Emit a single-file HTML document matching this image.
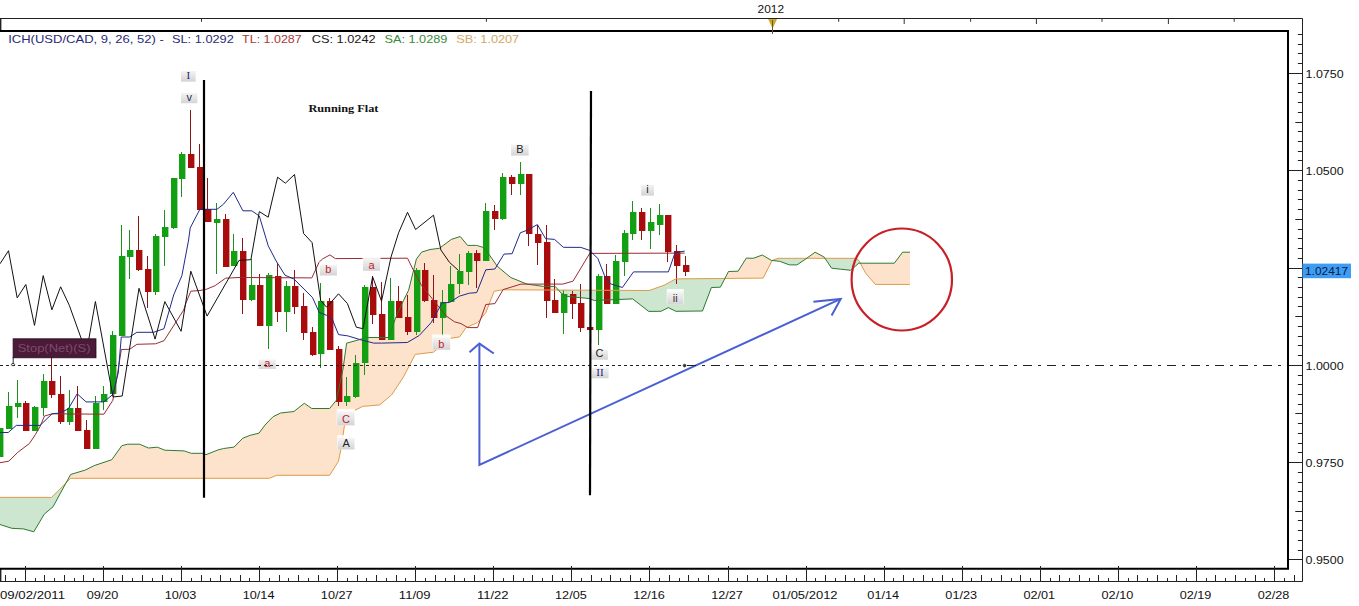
<!DOCTYPE html>
<html><head><meta charset="utf-8"><style>
html,body{margin:0;padding:0;background:#fff;width:1359px;height:606px;overflow:hidden}
svg{display:block}
</style></head><body>
<svg width="1359" height="606" viewBox="0 0 1359 606">
<defs><linearGradient id="lg" x1="0" y1="0" x2="0" y2="1"><stop offset="0" stop-color="#f4f4f4"/><stop offset="1" stop-color="#d4d4d4"/></linearGradient>
<clipPath id="cp"><rect x="0" y="31" width="1288" height="537"/></clipPath></defs>
<rect width="1359" height="606" fill="#fff"/>
<g clip-path="url(#cp)">
<path d="M66.5,482.0 L67.0,481.1 L67.5,480.2 L68.0,479.3 L68.5,478.4 L69.0,477.4 L69.5,476.5 L70.0,475.6 L70.5,474.7 L71.0,474.4 L71.5,474.2 L72.0,474.1 L72.5,473.9 L73.0,473.8 L73.5,473.6 L74.0,473.5 L74.5,473.3 L75.0,473.2 L75.5,473.0 L76.0,472.9 L76.5,472.7 L77.0,472.6 L77.5,472.4 L78.0,472.2 L78.5,472.1 L79.0,471.9 L79.5,471.8 L80.0,471.6 L80.5,471.5 L81.0,471.3 L81.5,471.2 L82.0,471.0 L82.5,470.9 L83.0,470.7 L83.5,470.6 L84.0,470.4 L84.5,470.3 L85.0,470.1 L85.5,469.9 L86.0,469.7 L86.5,469.4 L87.0,469.2 L87.5,468.9 L88.0,468.7 L88.5,468.4 L89.0,468.2 L89.5,467.9 L90.0,467.7 L90.5,467.4 L91.0,467.2 L91.5,467.0 L92.0,466.7 L92.5,466.5 L93.0,466.2 L93.5,466.0 L94.0,465.7 L94.5,465.5 L95.0,465.3 L95.5,465.2 L96.0,465.0 L96.5,464.8 L97.0,464.7 L97.5,464.5 L98.0,464.3 L98.5,464.2 L99.0,464.0 L99.5,463.8 L100.0,463.7 L100.5,463.5 L101.0,463.3 L101.5,463.2 L102.0,463.0 L102.5,462.8 L103.0,462.6 L103.5,462.5 L104.0,462.3 L104.5,462.1 L105.0,462.0 L105.5,461.8 L106.0,461.6 L106.5,461.5 L107.0,461.3 L107.5,461.1 L108.0,461.0 L108.5,460.8 L109.0,460.6 L109.5,460.5 L110.0,460.3 L110.5,460.1 L111.0,460.0 L111.5,459.8 L112.0,459.4 L112.5,458.7 L113.0,458.0 L113.5,457.3 L114.0,456.6 L114.5,455.9 L115.0,455.2 L115.5,454.5 L116.0,453.8 L116.5,453.1 L117.0,452.4 L117.5,451.7 L118.0,451.0 L118.5,450.3 L119.0,449.6 L119.5,448.9 L120.0,448.2 L120.5,447.5 L121.0,446.8 L121.5,446.1 L122.0,445.6 L122.5,445.5 L123.0,445.4 L123.5,445.3 L124.0,445.1 L124.5,445.0 L125.0,444.9 L125.5,444.8 L126.0,444.6 L126.5,444.5 L127.0,444.4 L127.5,444.3 L128.0,444.2 L128.5,444.2 L129.0,444.2 L129.5,444.2 L130.0,444.2 L130.5,444.2 L131.0,444.2 L131.5,444.2 L132.0,444.2 L132.5,444.2 L133.0,444.2 L133.5,444.2 L134.0,444.2 L134.5,444.2 L135.0,444.2 L135.5,444.2 L136.0,444.2 L136.5,444.2 L137.0,444.2 L137.5,444.2 L138.0,444.2 L138.5,444.2 L139.0,444.2 L139.5,444.2 L140.0,444.4 L140.5,444.6 L141.0,444.8 L141.5,445.0 L142.0,445.2 L142.5,445.4 L143.0,445.7 L143.5,445.9 L144.0,446.1 L144.5,446.3 L145.0,446.5 L145.5,446.7 L146.0,446.9 L146.5,447.1 L147.0,447.4 L147.5,447.6 L148.0,447.8 L148.5,448.0 L149.0,448.0 L149.5,447.9 L150.0,447.9 L150.5,447.8 L151.0,447.8 L151.5,447.7 L152.0,447.7 L152.5,447.6 L153.0,447.6 L153.5,447.6 L154.0,447.5 L154.5,447.5 L155.0,447.4 L155.5,447.4 L156.0,447.3 L156.5,447.3 L157.0,447.2 L157.5,447.2 L158.0,447.4 L158.5,447.6 L159.0,447.8 L159.5,448.1 L160.0,448.3 L160.5,448.5 L161.0,448.7 L161.5,448.9 L162.0,449.1 L162.5,449.3 L163.0,449.5 L163.5,449.7 L164.0,449.9 L164.5,450.1 L165.0,450.2 L165.5,450.2 L166.0,450.2 L166.5,450.3 L167.0,450.3 L167.5,450.3 L168.0,450.3 L168.5,450.3 L169.0,450.4 L169.5,450.4 L170.0,450.4 L170.5,450.4 L171.0,450.4 L171.5,450.4 L172.0,450.5 L172.5,450.5 L173.0,450.5 L173.5,450.5 L174.0,450.5 L174.5,450.6 L175.0,450.6 L175.5,450.6 L176.0,450.6 L176.5,450.6 L177.0,450.6 L177.5,450.7 L178.0,450.7 L178.5,450.7 L179.0,450.7 L179.5,450.7 L180.0,450.8 L180.5,450.8 L181.0,450.8 L181.5,450.8 L182.0,450.8 L182.5,450.8 L183.0,450.9 L183.5,450.9 L184.0,450.9 L184.5,451.0 L185.0,451.2 L185.5,451.4 L186.0,451.5 L186.5,451.7 L187.0,451.9 L187.5,452.0 L188.0,452.2 L188.5,452.4 L189.0,452.5 L189.5,452.7 L190.0,452.9 L190.5,453.0 L191.0,453.2 L191.5,453.3 L192.0,453.3 L192.5,453.3 L193.0,453.3 L193.5,453.3 L194.0,453.3 L194.5,453.3 L195.0,453.3 L195.5,453.3 L196.0,453.3 L196.5,453.3 L197.0,453.3 L197.5,453.3 L198.0,453.3 L198.5,453.3 L199.0,453.3 L199.5,453.3 L200.0,453.3 L200.5,453.3 L201.0,453.3 L201.5,453.3 L202.0,453.3 L202.5,453.3 L203.0,453.3 L203.5,453.5 L204.0,453.7 L204.5,454.0 L205.0,454.2 L205.5,454.5 L206.0,454.7 L206.5,454.5 L207.0,454.3 L207.5,454.1 L208.0,453.9 L208.5,453.7 L209.0,453.5 L209.5,453.3 L210.0,453.1 L210.5,452.9 L211.0,452.7 L211.5,452.5 L212.0,452.3 L212.5,452.1 L213.0,451.9 L213.5,451.7 L214.0,451.5 L214.5,451.3 L215.0,451.1 L215.5,450.9 L216.0,450.7 L216.5,450.5 L217.0,450.3 L217.5,450.1 L218.0,449.9 L218.5,449.8 L219.0,449.7 L219.5,449.6 L220.0,449.4 L220.5,449.3 L221.0,449.2 L221.5,449.1 L222.0,448.9 L222.5,448.8 L223.0,448.7 L223.5,448.6 L224.0,448.5 L224.5,448.4 L225.0,448.3 L225.5,448.3 L226.0,448.2 L226.5,448.1 L227.0,448.1 L227.5,448.0 L228.0,447.9 L228.5,447.8 L229.0,447.8 L229.5,447.7 L230.0,447.6 L230.5,447.6 L231.0,447.5 L231.5,447.4 L232.0,447.4 L232.5,447.3 L233.0,447.2 L233.5,447.2 L234.0,447.1 L234.5,446.6 L235.0,446.1 L235.5,445.6 L236.0,445.1 L236.5,444.6 L237.0,444.1 L237.5,443.6 L238.0,443.1 L238.5,442.5 L239.0,442.0 L239.5,441.5 L240.0,441.0 L240.5,440.5 L241.0,440.0 L241.5,439.5 L242.0,439.0 L242.5,438.5 L243.0,438.1 L243.5,437.9 L244.0,437.7 L244.5,437.5 L245.0,437.3 L245.5,437.1 L246.0,436.9 L246.5,436.8 L247.0,436.6 L247.5,436.4 L248.0,436.2 L248.5,436.0 L249.0,435.8 L249.5,435.6 L250.0,435.4 L250.5,435.2 L251.0,435.1 L251.5,435.0 L252.0,434.9 L252.5,434.8 L253.0,434.6 L253.5,434.5 L254.0,434.4 L254.5,434.3 L255.0,434.2 L255.5,434.0 L256.0,433.9 L256.5,433.8 L257.0,433.7 L257.5,433.6 L258.0,433.4 L258.5,433.3 L259.0,433.2 L259.5,432.5 L260.0,431.8 L260.5,431.1 L261.0,430.5 L261.5,429.8 L262.0,429.1 L262.5,428.4 L263.0,427.7 L263.5,427.1 L264.0,426.4 L264.5,425.7 L265.0,425.0 L265.5,424.5 L266.0,424.0 L266.5,423.5 L267.0,423.0 L267.5,422.4 L268.0,421.9 L268.5,421.4 L269.0,420.9 L269.5,420.4 L270.0,419.9 L270.5,419.4 L271.0,418.9 L271.5,418.3 L272.0,417.8 L272.5,417.3 L273.0,416.8 L273.5,416.5 L274.0,416.3 L274.5,416.0 L275.0,415.8 L275.5,415.5 L276.0,415.3 L276.5,415.0 L277.0,414.8 L277.5,414.5 L278.0,414.3 L278.5,414.0 L279.0,413.8 L279.5,413.5 L280.0,413.3 L280.5,413.0 L281.0,413.0 L281.5,412.9 L282.0,412.8 L282.5,412.8 L283.0,412.7 L283.5,412.7 L284.0,412.6 L284.5,412.6 L285.0,412.5 L285.5,412.4 L286.0,412.4 L286.5,412.3 L287.0,412.3 L287.5,412.2 L288.0,412.2 L288.5,412.1 L289.0,412.1 L289.5,412.0 L290.0,411.9 L290.5,411.9 L291.0,411.8 L291.5,411.8 L292.0,411.7 L292.5,411.7 L293.0,411.6 L293.5,411.5 L294.0,411.4 L294.5,411.0 L295.0,410.6 L295.5,410.2 L296.0,409.8 L296.5,409.4 L297.0,409.1 L297.5,408.7 L298.0,408.3 L298.5,407.9 L299.0,407.5 L299.5,407.1 L300.0,406.7 L300.5,406.3 L301.0,405.9 L301.5,405.5 L302.0,405.1 L302.5,404.7 L303.0,404.3 L303.5,403.9 L304.0,403.5 L304.5,403.4 L305.0,403.8 L305.5,404.1 L306.0,404.5 L306.5,404.8 L307.0,405.2 L307.5,405.5 L308.0,405.9 L308.5,406.2 L309.0,406.6 L309.5,406.9 L310.0,407.3 L310.5,407.6 L311.0,407.9 L311.5,408.3 L312.0,408.5 L312.5,408.5 L313.0,408.5 L313.5,408.5 L314.0,408.5 L314.5,408.5 L315.0,408.5 L315.5,408.5 L316.0,408.5 L316.5,408.5 L317.0,408.5 L317.5,408.5 L318.0,408.5 L318.5,408.5 L319.0,408.5 L319.5,408.5 L320.0,408.5 L320.5,408.5 L321.0,408.5 L321.5,408.5 L322.0,408.5 L322.5,408.5 L323.0,408.5 L323.5,408.5 L324.0,408.5 L324.5,408.5 L325.0,408.5 L325.5,408.5 L326.0,408.5 L326.5,408.5 L327.0,408.5 L327.5,408.5 L328.0,408.5 L328.5,408.5 L329.0,408.5 L329.5,408.5 L330.0,408.0 L330.5,407.4 L331.0,406.8 L331.5,406.2 L332.0,405.6 L332.5,405.0 L333.0,404.3 L333.5,403.7 L334.0,403.1 L334.5,402.5 L335.0,401.9 L335.5,401.3 L336.0,400.7 L336.5,399.4 L337.0,397.0 L337.5,394.7 L338.0,392.4 L338.5,390.1 L339.0,387.7 L339.5,385.4 L340.0,383.1 L340.5,380.7 L341.0,378.4 L341.5,376.1 L342.0,373.8 L342.5,371.4 L343.0,369.1 L343.5,365.5 L344.0,361.9 L344.5,358.3 L345.0,354.7 L345.5,351.1 L346.0,347.5 L346.5,343.9 L347.0,343.1 L347.5,342.9 L348.0,342.8 L348.5,342.7 L349.0,342.5 L349.5,342.4 L350.0,342.2 L350.5,342.1 L351.0,342.0 L351.5,341.8 L352.0,341.7 L352.5,341.5 L353.0,341.4 L353.5,341.3 L354.0,341.1 L354.5,341.0 L355.0,340.8 L355.5,340.7 L356.0,340.6 L356.5,340.4 L357.0,340.3 L357.5,340.1 L358.0,340.0 L358.5,339.9 L359.0,339.7 L359.5,339.6 L360.0,339.4 L360.5,339.3 L361.0,339.1 L361.5,338.9 L362.0,338.8 L362.5,338.6 L363.0,338.4 L363.5,338.2 L364.0,338.1 L364.5,337.9 L365.0,337.7 L365.5,337.6 L366.0,337.5 L366.5,337.5 L367.0,337.5 L367.5,337.5 L368.0,337.5 L368.5,337.5 L369.0,337.5 L369.5,337.5 L370.0,337.5 L370.5,337.5 L371.0,337.5 L371.5,337.5 L372.0,337.5 L372.5,337.5 L373.0,337.5 L373.5,337.5 L374.0,337.5 L374.5,337.5 L375.0,337.5 L375.5,337.5 L376.0,337.5 L376.5,337.5 L377.0,337.5 L377.5,337.5 L378.0,337.5 L378.5,337.5 L379.0,337.5 L379.5,337.5 L380.0,337.5 L380.5,337.5 L381.0,337.5 L381.5,337.5 L382.0,337.5 L382.5,337.5 L383.0,337.5 L383.5,337.5 L384.0,337.5 L384.5,337.5 L385.0,337.5 L385.5,337.5 L386.0,337.5 L386.5,337.5 L387.0,337.5 L387.5,337.5 L388.0,337.5 L388.5,337.5 L389.0,336.1 L389.5,334.8 L390.0,333.4 L390.5,332.0 L391.0,330.6 L391.5,329.3 L392.0,327.9 L392.5,326.5 L393.0,325.1 L393.5,323.8 L394.0,322.4 L394.5,321.0 L395.0,319.6 L395.5,318.3 L396.0,317.1 L396.5,316.0 L397.0,314.9 L397.5,313.8 L398.0,312.7 L398.5,311.6 L399.0,310.5 L399.5,309.4 L400.0,308.2 L400.5,307.1 L401.0,306.0 L401.5,304.9 L402.0,303.8 L402.5,302.7 L403.0,301.6 L403.5,300.5 L404.0,299.5 L404.5,298.5 L405.0,297.5 L405.5,296.5 L406.0,295.5 L406.5,294.5 L407.0,293.5 L407.5,292.5 L408.0,291.5 L408.5,290.5 L409.0,288.7 L409.5,286.7 L410.0,284.6 L410.5,282.6 L411.0,280.6 L411.5,278.6 L412.0,276.5 L412.5,274.5 L413.0,272.5 L413.5,270.5 L414.0,268.6 L414.5,266.6 L415.0,264.6 L415.5,262.6 L416.0,260.7 L416.5,259.0 L417.0,258.3 L417.5,257.6 L418.0,256.9 L418.5,256.3 L419.0,255.6 L419.5,254.9 L420.0,254.3 L420.5,253.6 L421.0,252.9 L421.5,252.2 L422.0,252.0 L422.5,251.8 L423.0,251.7 L423.5,251.5 L424.0,251.4 L424.5,251.2 L425.0,251.0 L425.5,250.9 L426.0,250.7 L426.5,250.6 L427.0,250.4 L427.5,250.3 L428.0,250.1 L428.5,250.0 L429.0,249.8 L429.5,249.7 L430.0,249.5 L430.5,249.4 L431.0,249.4 L431.5,249.3 L432.0,249.2 L432.5,249.2 L433.0,249.1 L433.5,249.1 L434.0,249.0 L434.5,248.9 L435.0,248.9 L435.5,248.8 L436.0,248.7 L436.5,248.7 L437.0,248.6 L437.5,248.5 L438.0,248.5 L438.5,248.4 L439.0,248.4 L439.5,248.2 L440.0,247.9 L440.5,247.5 L441.0,247.1 L441.5,246.7 L442.0,246.4 L442.5,246.0 L443.0,245.6 L443.5,245.2 L444.0,244.9 L444.5,244.5 L445.0,244.1 L445.5,243.7 L446.0,243.4 L446.5,243.0 L447.0,242.6 L447.5,242.2 L448.0,241.9 L448.5,241.5 L449.0,241.1 L449.5,240.7 L450.0,240.4 L450.5,240.0 L451.0,239.6 L451.5,239.3 L452.0,239.2 L452.5,239.0 L453.0,238.8 L453.5,238.7 L454.0,238.5 L454.5,238.4 L455.0,238.2 L455.5,238.0 L456.0,237.9 L456.5,237.7 L457.0,237.5 L457.5,237.4 L458.0,237.2 L458.5,237.1 L459.0,236.9 L459.5,236.7 L460.0,236.6 L460.5,236.9 L461.0,237.5 L461.5,238.1 L462.0,238.7 L462.5,239.3 L463.0,239.9 L463.5,240.5 L464.0,241.1 L464.5,241.7 L465.0,242.3 L465.5,242.9 L466.0,243.5 L466.5,244.1 L467.0,244.7 L467.5,245.3 L468.0,245.4 L468.5,245.4 L469.0,245.4 L469.5,245.4 L470.0,245.4 L470.5,245.4 L471.0,245.4 L471.5,245.4 L472.0,245.4 L472.5,245.4 L473.0,245.4 L473.5,245.4 L474.0,245.4 L474.5,245.4 L475.0,245.4 L475.5,245.4 L476.0,245.4 L476.5,245.4 L477.0,245.5 L477.5,245.7 L478.0,245.8 L478.5,246.0 L479.0,246.1 L479.5,246.3 L480.0,246.4 L480.5,246.6 L481.0,246.7 L481.5,246.9 L482.0,247.0 L482.5,247.2 L483.0,247.3 L483.5,247.5 L484.0,247.7 L484.5,248.4 L485.0,249.1 L485.5,249.7 L486.0,250.4 L486.5,251.1 L487.0,251.7 L487.5,252.4 L488.0,253.0 L488.5,253.7 L489.0,254.4 L489.5,255.1 L490.0,255.8 L490.5,256.5 L491.0,257.2 L491.5,258.0 L492.0,258.7 L492.5,259.4 L493.0,260.1 L493.5,260.8 L494.0,261.6 L494.5,262.3 L495.0,263.0 L495.5,263.7 L496.0,264.4 L496.5,265.1 L497.0,265.9 L497.5,266.5 L498.0,266.9 L498.5,267.3 L499.0,267.7 L499.5,268.1 L500.0,268.6 L500.5,269.0 L501.0,269.4 L501.5,269.8 L502.0,270.2 L502.5,270.6 L503.0,271.1 L503.5,271.5 L504.0,271.9 L504.5,272.3 L505.0,272.7 L505.5,273.2 L506.0,273.6 L506.5,274.0 L507.0,274.4 L507.5,274.8 L508.0,275.2 L508.5,275.7 L509.0,276.1 L509.5,276.5 L510.0,276.9 L510.5,277.3 L511.0,277.6 L511.5,277.8 L512.0,278.0 L512.5,278.2 L513.0,278.4 L513.5,278.6 L514.0,278.8 L514.5,279.0 L515.0,279.2 L515.5,279.4 L516.0,279.6 L516.5,279.8 L517.0,280.1 L517.5,280.3 L518.0,280.5 L518.5,280.7 L519.0,280.9 L519.5,281.1 L520.0,281.3 L520.5,281.5 L521.0,281.7 L521.5,281.9 L522.0,282.1 L522.5,282.3 L523.0,282.5 L523.5,282.7 L524.0,282.9 L524.5,283.1 L525.0,283.3 L525.5,283.5 L526.0,283.7 L526.5,283.9 L527.0,284.1 L527.5,284.2 L528.0,284.2 L528.5,284.3 L529.0,284.4 L529.5,284.5 L530.0,284.5 L530.5,284.6 L531.0,284.7 L531.5,284.7 L532.0,284.8 L532.5,284.9 L533.0,284.9 L533.5,285.0 L534.0,285.1 L534.5,285.2 L535.0,285.2 L535.5,285.3 L536.0,285.4 L536.5,285.4 L537.0,285.5 L537.5,285.6 L538.0,285.7 L538.5,285.7 L539.0,285.8 L539.5,285.9 L540.0,285.9 L540.5,286.0 L541.0,286.1 L541.5,286.1 L542.0,286.2 L542.5,286.3 L543.0,286.4 L543.5,286.4 L544.0,286.4 L544.5,286.4 L545.0,286.4 L545.5,286.4 L546.0,286.4 L546.5,286.4 L547.0,286.4 L547.5,286.4 L548.0,286.4 L548.5,286.4 L549.0,286.4 L549.5,286.4 L550.0,286.4 L550.5,286.4 L551.0,286.4 L551.5,286.4 L552.0,286.4 L552.5,286.4 L553.0,286.4 L553.5,286.4 L554.0,286.4 L554.5,286.4 L555.0,286.4 L555.5,286.7 L556.0,287.3 L556.5,287.9 L557.0,288.4 L557.5,289.0 L558.0,289.6 L558.0,290.1 L557.5,290.1 L557.0,290.1 L556.5,290.1 L556.0,290.1 L555.5,290.1 L555.0,290.1 L554.5,290.0 L554.0,290.0 L553.5,290.0 L553.0,290.0 L552.5,290.0 L552.0,290.0 L551.5,290.0 L551.0,290.0 L550.5,290.0 L550.0,290.0 L549.5,290.0 L549.0,290.0 L548.5,290.0 L548.0,290.0 L547.5,290.0 L547.0,290.0 L546.5,290.0 L546.0,290.0 L545.5,290.0 L545.0,290.0 L544.5,290.0 L544.0,290.0 L543.5,290.0 L543.0,290.0 L542.5,290.0 L542.0,290.0 L541.5,290.0 L541.0,290.0 L540.5,290.0 L540.0,290.0 L539.5,290.0 L539.0,290.0 L538.5,290.0 L538.0,290.0 L537.5,290.0 L537.0,290.0 L536.5,290.0 L536.0,290.0 L535.5,290.0 L535.0,290.0 L534.5,290.0 L534.0,290.0 L533.5,289.9 L533.0,289.9 L532.5,289.9 L532.0,289.9 L531.5,289.9 L531.0,289.9 L530.5,289.9 L530.0,289.9 L529.5,289.9 L529.0,289.9 L528.5,289.9 L528.0,289.9 L527.5,289.9 L527.0,289.9 L526.5,289.9 L526.0,289.9 L525.5,289.9 L525.0,289.9 L524.5,289.9 L524.0,289.9 L523.5,289.9 L523.0,289.9 L522.5,289.9 L522.0,289.9 L521.5,289.9 L521.0,289.9 L520.5,289.9 L520.0,289.9 L519.5,289.9 L519.0,289.9 L518.5,289.9 L518.0,289.9 L517.5,289.9 L517.0,289.9 L516.5,289.9 L516.0,289.9 L515.5,289.9 L515.0,289.9 L514.5,289.9 L514.0,289.9 L513.5,289.9 L513.0,289.9 L512.5,289.8 L512.0,289.8 L511.5,289.8 L511.0,289.8 L510.5,289.8 L510.0,289.8 L509.5,289.8 L509.0,289.8 L508.5,289.8 L508.0,289.8 L507.5,289.8 L507.0,289.8 L506.5,289.8 L506.0,289.8 L505.5,289.8 L505.0,289.8 L504.5,289.8 L504.0,289.8 L503.5,289.8 L503.0,289.8 L502.5,289.8 L502.0,289.9 L501.5,289.9 L501.0,290.0 L500.5,290.1 L500.0,290.2 L499.5,290.3 L499.0,290.4 L498.5,290.5 L498.0,290.6 L497.5,290.7 L497.0,290.8 L496.5,290.9 L496.0,291.0 L495.5,291.0 L495.0,291.1 L494.5,291.2 L494.0,291.6 L493.5,292.8 L493.0,294.1 L492.5,295.4 L492.0,296.7 L491.5,298.0 L491.0,299.3 L490.5,300.6 L490.0,301.9 L489.5,303.2 L489.0,304.4 L488.5,305.7 L488.0,307.0 L487.5,308.3 L487.0,309.6 L486.5,310.9 L486.0,312.2 L485.5,313.1 L485.0,313.7 L484.5,314.3 L484.0,314.9 L483.5,315.5 L483.0,316.1 L482.5,316.7 L482.0,317.3 L481.5,317.9 L481.0,318.5 L480.5,319.1 L480.0,319.7 L479.5,320.3 L479.0,320.9 L478.5,321.5 L478.0,322.1 L477.5,322.6 L477.0,322.9 L476.5,323.1 L476.0,323.3 L475.5,323.5 L475.0,323.7 L474.5,323.9 L474.0,324.2 L473.5,324.4 L473.0,324.6 L472.5,324.8 L472.0,325.0 L471.5,325.2 L471.0,325.4 L470.5,325.7 L470.0,325.9 L469.5,326.1 L469.0,326.3 L468.5,326.5 L468.0,326.7 L467.5,327.0 L467.0,327.2 L466.5,327.4 L466.0,327.6 L465.5,328.3 L465.0,329.1 L464.5,329.8 L464.0,330.5 L463.5,331.2 L463.0,332.0 L462.5,332.7 L462.0,333.4 L461.5,334.1 L461.0,334.9 L460.5,335.6 L460.0,336.3 L459.5,336.9 L459.0,337.0 L458.5,337.1 L458.0,337.2 L457.5,337.2 L457.0,337.3 L456.5,337.4 L456.0,337.5 L455.5,337.6 L455.0,337.6 L454.5,337.7 L454.0,337.8 L453.5,337.9 L453.0,338.0 L452.5,338.0 L452.0,338.1 L451.5,338.2 L451.0,338.3 L450.5,338.4 L450.0,338.6 L449.5,339.0 L449.0,339.4 L448.5,339.8 L448.0,340.2 L447.5,340.6 L447.0,341.0 L446.5,341.4 L446.0,341.8 L445.5,342.3 L445.0,342.7 L444.5,343.1 L444.0,343.5 L443.5,343.9 L443.0,344.3 L442.5,344.7 L442.0,345.1 L441.5,345.5 L441.0,345.9 L440.5,346.4 L440.0,346.8 L439.5,347.2 L439.0,347.6 L438.5,348.0 L438.0,348.4 L437.5,348.8 L437.0,349.2 L436.5,349.6 L436.0,350.0 L435.5,350.5 L435.0,350.9 L434.5,351.3 L434.0,351.7 L433.5,352.1 L433.0,352.2 L432.5,352.3 L432.0,352.4 L431.5,352.4 L431.0,352.5 L430.5,352.6 L430.0,352.6 L429.5,352.7 L429.0,352.7 L428.5,352.8 L428.0,352.9 L427.5,352.9 L427.0,353.0 L426.5,353.0 L426.0,353.1 L425.5,353.2 L425.0,353.2 L424.5,353.3 L424.0,353.3 L423.5,353.4 L423.0,353.5 L422.5,353.5 L422.0,353.6 L421.5,353.6 L421.0,353.7 L420.5,353.8 L420.0,353.8 L419.5,353.9 L419.0,353.9 L418.5,354.0 L418.0,354.1 L417.5,354.1 L417.0,354.2 L416.5,354.2 L416.0,354.3 L415.5,354.4 L415.0,354.8 L414.5,355.7 L414.0,356.7 L413.5,357.7 L413.0,358.6 L412.5,359.6 L412.0,360.6 L411.5,361.5 L411.0,362.5 L410.5,363.4 L410.0,364.4 L409.5,365.4 L409.0,366.3 L408.5,367.3 L408.0,368.3 L407.5,369.2 L407.0,370.2 L406.5,371.1 L406.0,372.1 L405.5,373.1 L405.0,374.0 L404.5,375.0 L404.0,375.9 L403.5,376.9 L403.0,377.7 L402.5,378.5 L402.0,379.2 L401.5,380.0 L401.0,380.7 L400.5,381.5 L400.0,382.2 L399.5,383.0 L399.0,383.7 L398.5,384.5 L398.0,385.2 L397.5,386.0 L397.0,386.7 L396.5,387.5 L396.0,388.2 L395.5,389.0 L395.0,389.7 L394.5,390.5 L394.0,391.2 L393.5,392.0 L393.0,392.7 L392.5,393.5 L392.0,394.2 L391.5,395.0 L391.0,395.4 L390.5,395.8 L390.0,396.2 L389.5,396.7 L389.0,397.1 L388.5,397.5 L388.0,397.9 L387.5,398.3 L387.0,398.7 L386.5,399.2 L386.0,399.6 L385.5,400.0 L385.0,400.4 L384.5,400.8 L384.0,401.2 L383.5,401.7 L383.0,402.1 L382.5,402.5 L382.0,402.9 L381.5,403.3 L381.0,403.7 L380.5,404.2 L380.0,404.6 L379.5,404.9 L379.0,405.0 L378.5,405.0 L378.0,405.0 L377.5,405.1 L377.0,405.1 L376.5,405.2 L376.0,405.2 L375.5,405.3 L375.0,405.3 L374.5,405.3 L374.0,405.4 L373.5,405.4 L373.0,405.5 L372.5,405.5 L372.0,405.6 L371.5,405.6 L371.0,405.7 L370.5,405.7 L370.0,405.7 L369.5,405.8 L369.0,405.8 L368.5,405.9 L368.0,405.9 L367.5,406.0 L367.0,406.0 L366.5,406.1 L366.0,406.1 L365.5,406.1 L365.0,406.2 L364.5,406.2 L364.0,406.3 L363.5,406.3 L363.0,406.4 L362.5,406.5 L362.0,406.7 L361.5,407.0 L361.0,407.2 L360.5,407.5 L360.0,407.7 L359.5,408.0 L359.0,408.2 L358.5,408.5 L358.0,408.7 L357.5,409.0 L357.0,409.2 L356.5,409.5 L356.0,409.7 L355.5,410.0 L355.0,410.2 L354.5,410.5 L354.0,410.9 L353.5,411.6 L353.0,412.4 L352.5,413.2 L352.0,414.0 L351.5,414.8 L351.0,415.6 L350.5,416.3 L350.0,417.1 L349.5,417.9 L349.0,418.7 L348.5,419.5 L348.0,420.3 L347.5,421.0 L347.0,421.8 L346.5,422.6 L346.0,423.4 L345.5,424.2 L345.0,425.0 L344.5,425.7 L344.0,428.6 L343.5,432.1 L343.0,435.5 L342.5,438.9 L342.0,442.4 L341.5,445.8 L341.0,448.5 L340.5,451.1 L340.0,453.6 L339.5,456.1 L339.0,458.7 L338.5,461.2 L338.0,462.0 L337.5,462.8 L337.0,463.6 L336.5,464.4 L336.0,465.2 L335.5,466.0 L335.0,466.7 L334.5,467.5 L334.0,468.3 L333.5,469.1 L333.0,469.9 L332.5,470.7 L332.0,471.5 L331.5,472.3 L331.0,473.1 L330.5,473.9 L330.0,474.7 L329.5,475.3 L329.0,475.3 L328.5,475.3 L328.0,475.3 L327.5,475.3 L327.0,475.3 L326.5,475.3 L326.0,475.3 L325.5,475.3 L325.0,475.3 L324.5,475.3 L324.0,475.3 L323.5,475.3 L323.0,475.3 L322.5,475.3 L322.0,475.3 L321.5,475.3 L321.0,475.3 L320.5,475.3 L320.0,475.3 L319.5,475.3 L319.0,475.3 L318.5,475.3 L318.0,475.3 L317.5,475.3 L317.0,475.3 L316.5,475.3 L316.0,475.3 L315.5,475.3 L315.0,475.3 L314.5,475.3 L314.0,475.3 L313.5,475.3 L313.0,475.3 L312.5,475.3 L312.0,475.3 L311.5,475.3 L311.0,475.3 L310.5,475.3 L310.0,475.3 L309.5,475.3 L309.0,475.3 L308.5,475.3 L308.0,475.3 L307.5,475.3 L307.0,475.3 L306.5,475.3 L306.0,475.3 L305.5,475.3 L305.0,475.3 L304.5,475.3 L304.0,475.3 L303.5,475.3 L303.0,475.3 L302.5,475.3 L302.0,475.3 L301.5,475.3 L301.0,475.3 L300.5,475.3 L300.0,475.3 L299.5,475.3 L299.0,475.3 L298.5,475.3 L298.0,475.3 L297.5,475.3 L297.0,475.3 L296.5,475.3 L296.0,475.3 L295.5,475.3 L295.0,475.3 L294.5,475.3 L294.0,475.3 L293.5,475.3 L293.0,475.3 L292.5,475.3 L292.0,475.3 L291.5,475.3 L291.0,475.3 L290.5,475.3 L290.0,475.3 L289.5,475.3 L289.0,475.3 L288.5,475.3 L288.0,475.3 L287.5,475.3 L287.0,475.3 L286.5,475.3 L286.0,475.3 L285.5,475.3 L285.0,475.3 L284.5,475.3 L284.0,475.3 L283.5,475.3 L283.0,475.3 L282.5,475.3 L282.0,475.3 L281.5,475.3 L281.0,475.3 L280.5,475.3 L280.0,475.3 L279.5,475.3 L279.0,475.3 L278.5,475.3 L278.0,475.3 L277.5,475.3 L277.0,475.3 L276.5,475.4 L276.0,475.6 L275.5,475.8 L275.0,476.0 L274.5,476.2 L274.0,476.4 L273.5,476.6 L273.0,476.8 L272.5,477.0 L272.0,477.2 L271.5,477.4 L271.0,477.6 L270.5,477.8 L270.0,478.0 L269.5,478.2 L269.0,478.3 L268.5,478.3 L268.0,478.3 L267.5,478.3 L267.0,478.3 L266.5,478.3 L266.0,478.3 L265.5,478.3 L265.0,478.3 L264.5,478.3 L264.0,478.3 L263.5,478.3 L263.0,478.3 L262.5,478.3 L262.0,478.3 L261.5,478.3 L261.0,478.3 L260.5,478.3 L260.0,478.3 L259.5,478.3 L259.0,478.3 L258.5,478.3 L258.0,478.3 L257.5,478.3 L257.0,478.3 L256.5,478.3 L256.0,478.3 L255.5,478.3 L255.0,478.3 L254.5,478.3 L254.0,478.3 L253.5,478.3 L253.0,478.3 L252.5,478.3 L252.0,478.3 L251.5,478.3 L251.0,478.3 L250.5,478.3 L250.0,478.3 L249.5,478.3 L249.0,478.3 L248.5,478.3 L248.0,478.3 L247.5,478.3 L247.0,478.3 L246.5,478.3 L246.0,478.3 L245.5,478.3 L245.0,478.3 L244.5,478.3 L244.0,478.3 L243.5,478.3 L243.0,478.3 L242.5,478.3 L242.0,478.3 L241.5,478.3 L241.0,478.3 L240.5,478.3 L240.0,478.3 L239.5,478.3 L239.0,478.3 L238.5,478.3 L238.0,478.3 L237.5,478.3 L237.0,478.3 L236.5,478.3 L236.0,478.3 L235.5,478.3 L235.0,478.3 L234.5,478.3 L234.0,478.3 L233.5,478.3 L233.0,478.3 L232.5,478.3 L232.0,478.3 L231.5,478.3 L231.0,478.3 L230.5,478.3 L230.0,478.3 L229.5,478.3 L229.0,478.3 L228.5,478.3 L228.0,478.3 L227.5,478.3 L227.0,478.3 L226.5,478.3 L226.0,478.3 L225.5,478.3 L225.0,478.3 L224.5,478.3 L224.0,478.3 L223.5,478.3 L223.0,478.3 L222.5,478.3 L222.0,478.3 L221.5,478.3 L221.0,478.3 L220.5,478.3 L220.0,478.3 L219.5,478.3 L219.0,478.3 L218.5,478.3 L218.0,478.3 L217.5,478.3 L217.0,478.3 L216.5,478.3 L216.0,478.3 L215.5,478.3 L215.0,478.3 L214.5,478.3 L214.0,478.3 L213.5,478.3 L213.0,478.3 L212.5,478.3 L212.0,478.3 L211.5,478.3 L211.0,478.3 L210.5,478.3 L210.0,478.3 L209.5,478.3 L209.0,478.3 L208.5,478.3 L208.0,478.3 L207.5,478.3 L207.0,478.3 L206.5,478.3 L206.0,478.3 L205.5,478.3 L205.0,478.3 L204.5,478.3 L204.0,478.3 L203.5,478.3 L203.0,478.3 L202.5,478.3 L202.0,478.3 L201.5,478.3 L201.0,478.3 L200.5,478.3 L200.0,478.3 L199.5,478.3 L199.0,478.3 L198.5,478.3 L198.0,478.3 L197.5,478.3 L197.0,478.3 L196.5,478.3 L196.0,478.3 L195.5,478.3 L195.0,478.3 L194.5,478.3 L194.0,478.3 L193.5,478.3 L193.0,478.3 L192.5,478.3 L192.0,478.3 L191.5,478.3 L191.0,478.3 L190.5,478.3 L190.0,478.3 L189.5,478.3 L189.0,478.3 L188.5,478.3 L188.0,478.3 L187.5,478.3 L187.0,478.3 L186.5,478.3 L186.0,478.3 L185.5,478.3 L185.0,478.3 L184.5,478.3 L184.0,478.3 L183.5,478.3 L183.0,478.3 L182.5,478.3 L182.0,478.3 L181.5,478.3 L181.0,478.3 L180.5,478.3 L180.0,478.3 L179.5,478.3 L179.0,478.3 L178.5,478.3 L178.0,478.3 L177.5,478.3 L177.0,478.3 L176.5,478.3 L176.0,478.3 L175.5,478.3 L175.0,478.3 L174.5,478.3 L174.0,478.3 L173.5,478.3 L173.0,478.3 L172.5,478.3 L172.0,478.3 L171.5,478.3 L171.0,478.3 L170.5,478.3 L170.0,478.3 L169.5,478.3 L169.0,478.3 L168.5,478.3 L168.0,478.3 L167.5,478.3 L167.0,478.3 L166.5,478.3 L166.0,478.3 L165.5,478.3 L165.0,478.3 L164.5,478.3 L164.0,478.3 L163.5,478.3 L163.0,478.3 L162.5,478.3 L162.0,478.3 L161.5,478.3 L161.0,478.3 L160.5,478.3 L160.0,478.3 L159.5,478.3 L159.0,478.3 L158.5,478.3 L158.0,478.3 L157.5,478.3 L157.0,478.3 L156.5,478.3 L156.0,478.3 L155.5,478.3 L155.0,478.3 L154.5,478.3 L154.0,478.3 L153.5,478.3 L153.0,478.3 L152.5,478.3 L152.0,478.3 L151.5,478.3 L151.0,478.3 L150.5,478.3 L150.0,478.3 L149.5,478.3 L149.0,478.3 L148.5,478.3 L148.0,478.3 L147.5,478.3 L147.0,478.3 L146.5,478.3 L146.0,478.3 L145.5,478.3 L145.0,478.3 L144.5,478.3 L144.0,478.3 L143.5,478.3 L143.0,478.3 L142.5,478.3 L142.0,478.3 L141.5,478.3 L141.0,478.3 L140.5,478.3 L140.0,478.3 L139.5,478.3 L139.0,478.3 L138.5,478.3 L138.0,478.3 L137.5,478.3 L137.0,478.3 L136.5,478.3 L136.0,478.3 L135.5,478.3 L135.0,478.3 L134.5,478.3 L134.0,478.3 L133.5,478.3 L133.0,478.3 L132.5,478.3 L132.0,478.3 L131.5,478.3 L131.0,478.3 L130.5,478.3 L130.0,478.3 L129.5,478.3 L129.0,478.3 L128.5,478.3 L128.0,478.3 L127.5,478.3 L127.0,478.3 L126.5,478.3 L126.0,478.3 L125.5,478.3 L125.0,478.3 L124.5,478.3 L124.0,478.3 L123.5,478.3 L123.0,478.3 L122.5,478.3 L122.0,478.3 L121.5,478.3 L121.0,478.3 L120.5,478.3 L120.0,478.3 L119.5,478.3 L119.0,478.3 L118.5,478.3 L118.0,478.3 L117.5,478.3 L117.0,478.3 L116.5,478.3 L116.0,478.3 L115.5,478.3 L115.0,478.3 L114.5,478.3 L114.0,478.3 L113.5,478.3 L113.0,478.3 L112.5,478.3 L112.0,478.3 L111.5,478.3 L111.0,478.3 L110.5,478.3 L110.0,478.3 L109.5,478.3 L109.0,478.3 L108.5,478.3 L108.0,478.3 L107.5,478.3 L107.0,478.3 L106.5,478.3 L106.0,478.3 L105.5,478.3 L105.0,478.3 L104.5,478.3 L104.0,478.3 L103.5,478.3 L103.0,478.3 L102.5,478.3 L102.0,478.3 L101.5,478.3 L101.0,478.3 L100.5,478.3 L100.0,478.3 L99.5,478.3 L99.0,478.3 L98.5,478.3 L98.0,478.3 L97.5,478.3 L97.0,478.3 L96.5,478.3 L96.0,478.3 L95.5,478.3 L95.0,478.3 L94.5,478.3 L94.0,478.3 L93.5,478.3 L93.0,478.3 L92.5,478.3 L92.0,478.3 L91.5,478.3 L91.0,478.3 L90.5,478.3 L90.0,478.3 L89.5,478.3 L89.0,478.3 L88.5,478.3 L88.0,478.3 L87.5,478.3 L87.0,478.3 L86.5,478.3 L86.0,478.3 L85.5,478.3 L85.0,478.3 L84.5,478.3 L84.0,478.3 L83.5,478.3 L83.0,478.3 L82.5,478.3 L82.0,478.3 L81.5,478.3 L81.0,478.3 L80.5,478.3 L80.0,478.3 L79.5,478.3 L79.0,478.3 L78.5,478.3 L78.0,478.3 L77.5,478.3 L77.0,478.3 L76.5,478.3 L76.0,478.3 L75.5,478.3 L75.0,478.3 L74.5,478.3 L74.0,478.3 L73.5,478.3 L73.0,478.3 L72.5,478.3 L72.0,478.3 L71.5,478.3 L71.0,478.3 L70.5,478.4 L70.0,478.9 L69.5,479.4 L69.0,479.9 L68.5,480.4 L68.0,480.9 L67.5,481.4 L67.0,481.9 L66.5,482.4Z" fill="#fde3cb"/>
<path d="M725.0,278.3 L725.5,277.3 L726.0,276.3 L726.5,275.4 L727.0,274.4 L727.5,273.4 L728.0,272.5 L728.5,271.5 L729.0,271.5 L729.5,271.5 L730.0,271.5 L730.5,271.4 L731.0,271.4 L731.5,271.4 L732.0,271.4 L732.5,271.4 L733.0,271.4 L733.5,271.3 L734.0,271.3 L734.5,271.3 L735.0,271.3 L735.5,271.3 L736.0,271.3 L736.5,271.2 L737.0,271.2 L737.5,271.2 L738.0,271.2 L738.5,270.6 L739.0,269.8 L739.5,269.0 L740.0,268.2 L740.5,267.4 L741.0,266.6 L741.5,265.8 L742.0,265.0 L742.5,264.2 L743.0,263.4 L743.5,262.6 L744.0,261.8 L744.5,261.0 L745.0,260.2 L745.5,259.4 L746.0,258.6 L746.5,258.1 L747.0,258.1 L747.5,258.1 L748.0,258.1 L748.5,258.2 L749.0,258.2 L749.5,258.2 L750.0,258.2 L750.5,258.2 L751.0,258.2 L751.5,258.3 L752.0,258.3 L752.5,258.3 L753.0,258.3 L753.5,258.2 L754.0,258.0 L754.5,257.8 L755.0,257.6 L755.5,257.5 L756.0,257.3 L756.5,257.1 L757.0,256.9 L757.5,256.7 L758.0,256.6 L758.5,256.4 L759.0,256.2 L759.5,256.0 L760.0,255.8 L760.5,255.7 L761.0,255.5 L761.5,255.3 L762.0,255.1 L762.5,255.1 L763.0,255.4 L763.5,255.7 L764.0,256.0 L764.5,256.3 L765.0,256.6 L765.5,256.9 L766.0,257.2 L766.5,257.5 L767.0,257.8 L767.5,258.1 L768.0,258.4 L768.5,258.7 L769.0,259.0 L769.5,259.3 L770.0,259.6 L770.5,259.9 L771.0,260.2 L771.5,260.4 L772.0,260.5 L772.0,260.8 L771.5,261.8 L771.0,262.7 L770.5,263.7 L770.0,264.7 L769.5,265.7 L769.0,266.6 L768.5,267.6 L768.0,268.6 L767.5,269.5 L767.0,270.5 L766.5,271.5 L766.0,272.5 L765.5,273.4 L765.0,274.4 L764.5,275.4 L764.0,276.3 L763.5,277.3 L763.0,278.1 L762.5,278.1 L762.0,278.1 L761.5,278.1 L761.0,278.1 L760.5,278.1 L760.0,278.1 L759.5,278.1 L759.0,278.1 L758.5,278.1 L758.0,278.1 L757.5,278.2 L757.0,278.2 L756.5,278.2 L756.0,278.2 L755.5,278.2 L755.0,278.2 L754.5,278.2 L754.0,278.2 L753.5,278.2 L753.0,278.2 L752.5,278.2 L752.0,278.2 L751.5,278.2 L751.0,278.2 L750.5,278.2 L750.0,278.2 L749.5,278.2 L749.0,278.2 L748.5,278.2 L748.0,278.2 L747.5,278.2 L747.0,278.2 L746.5,278.3 L746.0,278.3 L745.5,278.3 L745.0,278.3 L744.5,278.3 L744.0,278.3 L743.5,278.3 L743.0,278.3 L742.5,278.3 L742.0,278.3 L741.5,278.3 L741.0,278.3 L740.5,278.3 L740.0,278.3 L739.5,278.3 L739.0,278.3 L738.5,278.3 L738.0,278.3 L737.5,278.3 L737.0,278.3 L736.5,278.3 L736.0,278.3 L735.5,278.4 L735.0,278.4 L734.5,278.4 L734.0,278.4 L733.5,278.4 L733.0,278.4 L732.5,278.4 L732.0,278.4 L731.5,278.4 L731.0,278.4 L730.5,278.4 L730.0,278.4 L729.5,278.4 L729.0,278.4 L728.5,278.4 L728.0,278.4 L727.5,278.4 L727.0,278.4 L726.5,278.4 L726.0,278.4 L725.5,278.4 L725.0,278.4Z" fill="#fde3cb"/>
<path d="M807.0,258.1 L807.5,257.7 L808.0,257.3 L808.5,257.0 L809.0,256.6 L809.5,256.3 L810.0,255.9 L810.5,255.5 L811.0,255.2 L811.5,254.8 L812.0,254.4 L812.5,254.1 L813.0,253.7 L813.5,253.4 L814.0,253.0 L814.5,252.6 L815.0,252.3 L815.5,252.4 L816.0,252.7 L816.5,253.0 L817.0,253.2 L817.5,253.5 L818.0,253.8 L818.5,254.0 L819.0,254.3 L819.5,254.6 L820.0,254.8 L820.5,255.1 L821.0,255.4 L821.5,255.6 L822.0,255.9 L822.5,256.2 L823.0,256.5 L823.5,256.7 L824.0,257.0 L824.5,257.5 L825.0,258.3 L825.0,258.3 L824.5,258.3 L824.0,258.3 L823.5,258.3 L823.0,258.3 L822.5,258.3 L822.0,258.3 L821.5,258.3 L821.0,258.3 L820.5,258.3 L820.0,258.3 L819.5,258.3 L819.0,258.3 L818.5,258.3 L818.0,258.3 L817.5,258.3 L817.0,258.3 L816.5,258.3 L816.0,258.3 L815.5,258.3 L815.0,258.3 L814.5,258.3 L814.0,258.3 L813.5,258.3 L813.0,258.3 L812.5,258.3 L812.0,258.3 L811.5,258.3 L811.0,258.3 L810.5,258.3 L810.0,258.3 L809.5,258.3 L809.0,258.3 L808.5,258.3 L808.0,258.3 L807.5,258.3 L807.0,258.3Z" fill="#fde3cb"/>
<path d="M860.5,263.2 L861.0,263.2 L861.5,263.2 L862.0,263.2 L862.5,263.2 L863.0,263.2 L863.5,263.2 L864.0,263.2 L864.5,263.2 L865.0,263.2 L865.5,263.2 L866.0,263.2 L866.5,263.2 L867.0,263.2 L867.5,263.2 L868.0,263.2 L868.5,263.2 L869.0,263.2 L869.5,263.2 L870.0,263.2 L870.5,263.2 L871.0,263.2 L871.5,263.2 L872.0,263.2 L872.5,263.2 L873.0,263.2 L873.5,263.2 L874.0,263.2 L874.5,263.2 L875.0,263.2 L875.5,263.2 L876.0,263.2 L876.5,263.2 L877.0,263.2 L877.5,263.2 L878.0,263.2 L878.5,263.2 L879.0,263.2 L879.5,263.2 L880.0,263.2 L880.5,263.2 L881.0,263.2 L881.5,263.2 L882.0,263.2 L882.5,263.2 L883.0,263.2 L883.5,263.2 L884.0,263.2 L884.5,263.2 L885.0,263.2 L885.5,263.2 L886.0,263.2 L886.5,263.2 L887.0,263.2 L887.5,263.2 L888.0,263.2 L888.5,263.2 L889.0,263.2 L889.5,263.2 L890.0,263.2 L890.5,263.2 L891.0,263.2 L891.5,263.2 L892.0,263.2 L892.5,263.2 L893.0,263.2 L893.5,263.2 L894.0,263.2 L894.5,262.9 L895.0,262.3 L895.5,261.6 L896.0,260.9 L896.5,260.3 L897.0,259.6 L897.5,259.0 L898.0,258.3 L898.5,257.6 L899.0,257.0 L899.5,256.3 L900.0,255.6 L900.5,255.0 L901.0,254.3 L901.5,253.7 L902.0,253.0 L902.5,252.3 L903.0,252.2 L903.5,252.2 L904.0,252.2 L904.5,252.2 L905.0,252.2 L905.5,252.2 L906.0,252.2 L906.5,252.2 L907.0,252.2 L907.5,252.2 L908.0,252.2 L908.5,252.2 L909.0,252.2 L909.5,252.2 L910.0,252.2 L910.0,284.4 L909.5,284.4 L909.0,284.4 L908.5,284.4 L908.0,284.4 L907.5,284.4 L907.0,284.4 L906.5,284.4 L906.0,284.4 L905.5,284.4 L905.0,284.4 L904.5,284.4 L904.0,284.4 L903.5,284.4 L903.0,284.4 L902.5,284.4 L902.0,284.4 L901.5,284.4 L901.0,284.4 L900.5,284.4 L900.0,284.4 L899.5,284.4 L899.0,284.4 L898.5,284.4 L898.0,284.4 L897.5,284.4 L897.0,284.4 L896.5,284.4 L896.0,284.4 L895.5,284.4 L895.0,284.4 L894.5,284.4 L894.0,284.4 L893.5,284.4 L893.0,284.4 L892.5,284.4 L892.0,284.4 L891.5,284.4 L891.0,284.4 L890.5,284.4 L890.0,284.4 L889.5,284.4 L889.0,284.4 L888.5,284.4 L888.0,284.4 L887.5,284.4 L887.0,284.4 L886.5,284.4 L886.0,284.4 L885.5,284.4 L885.0,284.4 L884.5,284.4 L884.0,284.4 L883.5,284.4 L883.0,284.4 L882.5,284.4 L882.0,284.4 L881.5,284.4 L881.0,284.4 L880.5,284.4 L880.0,284.4 L879.5,284.4 L879.0,284.4 L878.5,284.4 L878.0,284.4 L877.5,284.4 L877.0,284.4 L876.5,284.4 L876.0,284.4 L875.5,284.4 L875.0,284.0 L874.5,283.5 L874.0,282.9 L873.5,282.3 L873.0,281.7 L872.5,281.1 L872.0,280.5 L871.5,279.9 L871.0,279.4 L870.5,278.8 L870.0,278.2 L869.5,277.6 L869.0,277.0 L868.5,276.4 L868.0,275.8 L867.5,275.3 L867.0,274.7 L866.5,274.1 L866.0,273.5 L865.5,272.9 L865.0,272.0 L864.5,271.1 L864.0,270.2 L863.5,269.2 L863.0,268.3 L862.5,267.4 L862.0,266.4 L861.5,265.5 L861.0,264.5 L860.5,263.6Z" fill="#fde3cb"/>
<path d="M0.0,497.4 L0.5,497.4 L1.0,497.4 L1.5,497.4 L2.0,497.4 L2.5,497.4 L3.0,497.4 L3.5,497.4 L4.0,497.4 L4.5,497.4 L5.0,497.4 L5.5,497.4 L6.0,497.4 L6.5,497.4 L7.0,497.4 L7.5,497.4 L8.0,497.4 L8.5,497.4 L9.0,497.4 L9.5,497.4 L10.0,497.4 L10.5,497.4 L11.0,497.4 L11.5,497.4 L12.0,497.4 L12.5,497.4 L13.0,497.4 L13.5,497.4 L14.0,497.4 L14.5,497.4 L15.0,497.4 L15.5,497.4 L16.0,497.4 L16.5,497.4 L17.0,497.4 L17.5,497.4 L18.0,497.4 L18.5,497.4 L19.0,497.4 L19.5,497.4 L20.0,497.4 L20.5,497.4 L21.0,497.4 L21.5,497.4 L22.0,497.4 L22.5,497.4 L23.0,497.4 L23.5,497.4 L24.0,497.4 L24.5,497.4 L25.0,497.4 L25.5,497.4 L26.0,497.4 L26.5,497.4 L27.0,497.4 L27.5,497.4 L28.0,497.4 L28.5,497.4 L29.0,497.4 L29.5,497.4 L30.0,497.4 L30.5,497.4 L31.0,497.4 L31.5,497.4 L32.0,497.4 L32.5,497.4 L33.0,497.4 L33.5,497.4 L34.0,497.4 L34.5,497.4 L35.0,497.4 L35.5,497.4 L36.0,497.4 L36.5,497.4 L37.0,497.4 L37.5,497.4 L38.0,497.4 L38.5,497.4 L39.0,497.4 L39.5,497.4 L40.0,497.4 L40.5,497.4 L41.0,497.4 L41.5,497.4 L42.0,497.4 L42.5,497.4 L43.0,497.4 L43.5,497.4 L44.0,497.4 L44.5,497.4 L45.0,497.4 L45.5,497.4 L46.0,497.4 L46.5,497.4 L47.0,497.4 L47.5,497.4 L48.0,497.4 L48.5,497.4 L49.0,497.4 L49.5,497.4 L50.0,497.4 L50.5,497.4 L51.0,497.4 L51.5,497.4 L52.0,496.9 L52.5,496.4 L53.0,495.9 L53.5,495.4 L54.0,494.9 L54.5,494.4 L55.0,493.9 L55.5,493.4 L56.0,492.9 L56.5,492.4 L57.0,491.9 L57.5,491.4 L58.0,490.9 L58.5,490.4 L59.0,489.9 L59.5,489.4 L60.0,488.9 L60.5,488.4 L61.0,487.9 L61.5,487.4 L62.0,486.9 L62.5,486.4 L63.0,485.9 L63.5,485.4 L64.0,484.9 L64.5,484.4 L65.0,483.9 L65.5,483.4 L66.0,482.9 L66.0,482.9 L65.5,483.9 L65.0,484.8 L64.5,485.7 L64.0,486.6 L63.5,487.5 L63.0,488.4 L62.5,489.4 L62.0,490.3 L61.5,491.2 L61.0,492.1 L60.5,493.0 L60.0,494.0 L59.5,494.9 L59.0,495.8 L58.5,496.7 L58.0,497.6 L57.5,498.5 L57.0,499.5 L56.5,500.4 L56.0,501.3 L55.5,502.2 L55.0,503.1 L54.5,504.0 L54.0,505.0 L53.5,505.9 L53.0,506.8 L52.5,507.2 L52.0,507.6 L51.5,508.1 L51.0,508.5 L50.5,508.9 L50.0,509.3 L49.5,509.7 L49.0,510.2 L48.5,510.6 L48.0,511.0 L47.5,511.4 L47.0,511.8 L46.5,512.3 L46.0,512.7 L45.5,513.1 L45.0,513.5 L44.5,513.9 L44.0,514.5 L43.5,515.4 L43.0,516.2 L42.5,517.1 L42.0,517.9 L41.5,518.8 L41.0,519.6 L40.5,520.5 L40.0,521.3 L39.5,522.2 L39.0,523.0 L38.5,523.8 L38.0,524.7 L37.5,525.5 L37.0,526.4 L36.5,527.2 L36.0,528.1 L35.5,528.9 L35.0,529.8 L34.5,530.6 L34.0,531.5 L33.5,531.7 L33.0,531.6 L32.5,531.4 L32.0,531.3 L31.5,531.2 L31.0,531.0 L30.5,530.9 L30.0,530.7 L29.5,530.6 L29.0,530.4 L28.5,530.3 L28.0,530.2 L27.5,530.0 L27.0,529.9 L26.5,529.7 L26.0,529.6 L25.5,529.5 L25.0,529.3 L24.5,529.2 L24.0,529.0 L23.5,528.9 L23.0,528.9 L22.5,528.8 L22.0,528.8 L21.5,528.8 L21.0,528.8 L20.5,528.7 L20.0,528.7 L19.5,528.7 L19.0,528.7 L18.5,528.6 L18.0,528.6 L17.5,528.6 L17.0,528.6 L16.5,528.5 L16.0,528.5 L15.5,528.5 L15.0,528.5 L14.5,528.4 L14.0,528.4 L13.5,528.4 L13.0,528.4 L12.5,528.3 L12.0,528.3 L11.5,528.2 L11.0,528.0 L10.5,527.9 L10.0,527.7 L9.5,527.6 L9.0,527.4 L8.5,527.2 L8.0,527.1 L7.5,526.9 L7.0,526.8 L6.5,526.6 L6.0,526.4 L5.5,526.3 L5.0,526.1 L4.5,525.9 L4.0,525.8 L3.5,525.6 L3.0,525.5 L2.5,525.3 L2.0,525.1 L1.5,525.0 L1.0,524.8 L0.5,524.7 L0.0,524.5Z" fill="#cde6cf"/>
<path d="M558.5,290.1 L559.0,290.1 L559.5,290.1 L560.0,290.1 L560.5,290.1 L561.0,290.1 L561.5,290.1 L562.0,290.1 L562.5,290.1 L563.0,290.1 L563.5,290.1 L564.0,290.1 L564.5,290.1 L565.0,290.1 L565.5,290.1 L566.0,290.1 L566.5,290.1 L567.0,290.1 L567.5,290.1 L568.0,290.1 L568.5,290.1 L569.0,290.1 L569.5,290.1 L570.0,290.1 L570.5,290.1 L571.0,290.1 L571.5,290.1 L572.0,290.1 L572.5,290.1 L573.0,290.1 L573.5,290.1 L574.0,290.1 L574.5,290.1 L575.0,290.1 L575.5,290.1 L576.0,290.2 L576.5,290.2 L577.0,290.2 L577.5,290.2 L578.0,290.2 L578.5,290.2 L579.0,290.2 L579.5,290.2 L580.0,290.2 L580.5,290.2 L581.0,290.2 L581.5,290.2 L582.0,290.2 L582.5,290.2 L583.0,290.2 L583.5,290.2 L584.0,290.2 L584.5,290.2 L585.0,290.2 L585.5,290.2 L586.0,290.2 L586.5,290.2 L587.0,290.2 L587.5,290.2 L588.0,290.2 L588.5,290.2 L589.0,290.2 L589.5,290.2 L590.0,290.2 L590.5,290.2 L591.0,290.2 L591.5,290.2 L592.0,290.2 L592.5,290.2 L593.0,290.2 L593.5,290.2 L594.0,290.2 L594.5,290.2 L595.0,290.2 L595.5,290.2 L596.0,290.2 L596.5,290.2 L597.0,290.3 L597.5,290.3 L598.0,290.3 L598.5,290.3 L599.0,290.3 L599.5,290.3 L600.0,290.3 L600.5,290.3 L601.0,290.3 L601.5,290.3 L602.0,290.3 L602.5,290.3 L603.0,290.3 L603.5,290.3 L604.0,290.3 L604.5,290.3 L605.0,290.3 L605.5,290.3 L606.0,290.3 L606.5,290.3 L607.0,290.3 L607.5,290.3 L608.0,290.3 L608.5,290.3 L609.0,290.3 L609.5,290.3 L610.0,290.3 L610.5,290.3 L611.0,290.3 L611.5,290.3 L612.0,290.3 L612.5,290.3 L613.0,290.3 L613.5,290.3 L614.0,290.3 L614.5,290.3 L615.0,290.3 L615.5,290.3 L616.0,290.3 L616.5,290.3 L617.0,290.3 L617.5,290.3 L618.0,290.4 L618.5,290.4 L619.0,290.4 L619.5,290.4 L620.0,290.4 L620.5,290.4 L621.0,290.4 L621.5,290.4 L622.0,290.4 L622.5,290.4 L623.0,290.4 L623.5,290.4 L624.0,290.4 L624.5,290.4 L625.0,290.4 L625.5,290.4 L626.0,290.4 L626.5,290.4 L627.0,290.4 L627.5,290.4 L628.0,290.4 L628.5,290.4 L629.0,290.4 L629.5,290.4 L630.0,290.4 L630.5,290.4 L631.0,290.4 L631.5,290.4 L632.0,290.4 L632.5,290.4 L633.0,290.4 L633.5,290.4 L634.0,290.4 L634.5,290.4 L635.0,290.4 L635.5,290.4 L636.0,290.4 L636.5,290.4 L637.0,290.4 L637.5,290.4 L638.0,290.4 L638.5,290.4 L639.0,290.5 L639.5,290.5 L640.0,290.5 L640.5,290.5 L641.0,290.5 L641.5,290.5 L642.0,290.5 L642.5,290.5 L643.0,290.5 L643.5,290.5 L644.0,290.5 L644.5,290.5 L645.0,290.5 L645.5,290.5 L646.0,290.5 L646.5,290.5 L647.0,290.5 L647.5,290.5 L648.0,290.5 L648.5,290.5 L649.0,290.5 L649.5,290.4 L650.0,290.2 L650.5,290.0 L651.0,289.8 L651.5,289.7 L652.0,289.5 L652.5,289.3 L653.0,289.1 L653.5,289.0 L654.0,288.8 L654.5,288.6 L655.0,288.4 L655.5,288.3 L656.0,288.1 L656.5,287.9 L657.0,287.7 L657.5,287.5 L658.0,287.4 L658.5,287.2 L659.0,287.0 L659.5,286.8 L660.0,286.7 L660.5,286.5 L661.0,286.3 L661.5,286.1 L662.0,286.0 L662.5,285.8 L663.0,285.6 L663.5,285.4 L664.0,285.2 L664.5,285.0 L665.0,284.7 L665.5,284.4 L666.0,284.2 L666.5,283.9 L667.0,283.6 L667.5,283.4 L668.0,283.1 L668.5,282.8 L669.0,282.6 L669.5,282.3 L670.0,282.0 L670.5,281.8 L671.0,281.5 L671.5,281.2 L672.0,280.9 L672.5,280.7 L673.0,280.4 L673.5,280.1 L674.0,279.9 L674.5,279.6 L675.0,279.3 L675.5,279.1 L676.0,278.9 L676.5,278.9 L677.0,278.9 L677.5,278.9 L678.0,278.9 L678.5,278.9 L679.0,278.9 L679.5,278.9 L680.0,278.9 L680.5,278.9 L681.0,278.9 L681.5,278.8 L682.0,278.8 L682.5,278.8 L683.0,278.8 L683.5,278.8 L684.0,278.8 L684.5,278.8 L685.0,278.8 L685.5,278.8 L686.0,278.8 L686.5,278.8 L687.0,278.8 L687.5,278.8 L688.0,278.8 L688.5,278.8 L689.0,278.8 L689.5,278.8 L690.0,278.8 L690.5,278.8 L691.0,278.8 L691.5,278.8 L692.0,278.8 L692.5,278.7 L693.0,278.7 L693.5,278.7 L694.0,278.7 L694.5,278.7 L695.0,278.7 L695.5,278.7 L696.0,278.7 L696.5,278.7 L697.0,278.7 L697.5,278.7 L698.0,278.7 L698.5,278.7 L699.0,278.7 L699.5,278.7 L700.0,278.7 L700.5,278.7 L701.0,278.7 L701.5,278.7 L702.0,278.7 L702.5,278.7 L703.0,278.7 L703.5,278.6 L704.0,278.6 L704.5,278.6 L705.0,278.6 L705.5,278.6 L706.0,278.6 L706.5,278.6 L707.0,278.6 L707.5,278.6 L708.0,278.6 L708.5,278.6 L709.0,278.6 L709.5,278.6 L710.0,278.6 L710.5,278.6 L711.0,278.6 L711.5,278.6 L712.0,278.6 L712.5,278.6 L713.0,278.6 L713.5,278.6 L714.0,278.5 L714.5,278.5 L715.0,278.5 L715.5,278.5 L716.0,278.5 L716.5,278.5 L717.0,278.5 L717.5,278.5 L718.0,278.5 L718.5,278.5 L719.0,278.5 L719.5,278.5 L720.0,278.5 L720.5,278.5 L721.0,278.5 L721.5,278.5 L722.0,278.5 L722.5,278.5 L723.0,278.5 L723.5,278.5 L724.0,278.5 L724.5,278.5 L724.5,279.3 L724.0,280.2 L723.5,281.2 L723.0,282.2 L722.5,283.1 L722.0,284.1 L721.5,285.1 L721.0,286.0 L720.5,287.0 L720.0,287.2 L719.5,287.2 L719.0,287.2 L718.5,287.3 L718.0,287.3 L717.5,287.3 L717.0,287.3 L716.5,287.3 L716.0,287.3 L715.5,287.4 L715.0,287.4 L714.5,287.4 L714.0,287.4 L713.5,287.4 L713.0,287.4 L712.5,287.5 L712.0,287.5 L711.5,287.5 L711.0,288.6 L710.5,289.9 L710.0,291.2 L709.5,292.5 L709.0,293.8 L708.5,295.2 L708.0,296.5 L707.5,297.8 L707.0,299.1 L706.5,300.4 L706.0,301.8 L705.5,303.1 L705.0,304.4 L704.5,305.7 L704.0,307.0 L703.5,308.4 L703.0,309.7 L702.5,311.0 L702.0,311.0 L701.5,311.0 L701.0,311.0 L700.5,311.0 L700.0,311.0 L699.5,311.0 L699.0,311.0 L698.5,311.0 L698.0,311.1 L697.5,311.1 L697.0,311.1 L696.5,311.1 L696.0,311.1 L695.5,311.1 L695.0,311.1 L694.5,311.1 L694.0,311.1 L693.5,311.1 L693.0,311.1 L692.5,311.1 L692.0,311.1 L691.5,311.1 L691.0,311.1 L690.5,311.1 L690.0,311.1 L689.5,311.1 L689.0,311.2 L688.5,311.2 L688.0,311.2 L687.5,311.2 L687.0,311.2 L686.5,311.2 L686.0,311.2 L685.5,311.2 L685.0,311.2 L684.5,311.2 L684.0,311.2 L683.5,311.2 L683.0,311.2 L682.5,311.2 L682.0,311.2 L681.5,311.2 L681.0,311.2 L680.5,311.2 L680.0,311.3 L679.5,311.3 L679.0,311.3 L678.5,311.3 L678.0,311.3 L677.5,311.3 L677.0,311.3 L676.5,311.3 L676.0,311.3 L675.5,311.2 L675.0,310.9 L674.5,310.7 L674.0,310.4 L673.5,310.2 L673.0,309.9 L672.5,309.7 L672.0,309.4 L671.5,309.2 L671.0,308.9 L670.5,308.7 L670.0,308.4 L669.5,308.2 L669.0,307.9 L668.5,307.7 L668.0,307.8 L667.5,308.1 L667.0,308.3 L666.5,308.6 L666.0,308.8 L665.5,309.1 L665.0,309.3 L664.5,309.6 L664.0,309.8 L663.5,310.1 L663.0,310.3 L662.5,310.6 L662.0,310.8 L661.5,311.1 L661.0,311.3 L660.5,311.3 L660.0,311.3 L659.5,311.3 L659.0,311.3 L658.5,311.3 L658.0,311.3 L657.5,311.3 L657.0,311.3 L656.5,311.3 L656.0,311.3 L655.5,311.3 L655.0,311.3 L654.5,311.4 L654.0,311.4 L653.5,311.4 L653.0,311.4 L652.5,311.4 L652.0,311.4 L651.5,311.4 L651.0,311.4 L650.5,311.4 L650.0,311.4 L649.5,311.4 L649.0,311.4 L648.5,311.2 L648.0,310.9 L647.5,310.5 L647.0,310.1 L646.5,309.7 L646.0,309.3 L645.5,308.9 L645.0,308.5 L644.5,308.1 L644.0,307.7 L643.5,307.3 L643.0,306.9 L642.5,306.6 L642.0,306.2 L641.5,305.8 L641.0,305.4 L640.5,305.0 L640.0,304.6 L639.5,304.2 L639.0,303.8 L638.5,303.4 L638.0,303.0 L637.5,302.6 L637.0,302.3 L636.5,301.9 L636.0,301.5 L635.5,301.1 L635.0,300.7 L634.5,300.3 L634.0,299.9 L633.5,299.5 L633.0,299.1 L632.5,298.9 L632.0,298.9 L631.5,298.9 L631.0,299.0 L630.5,299.0 L630.0,299.0 L629.5,299.0 L629.0,299.1 L628.5,299.1 L628.0,299.1 L627.5,299.1 L627.0,299.1 L626.5,299.2 L626.0,299.2 L625.5,299.2 L625.0,299.2 L624.5,299.2 L624.0,299.3 L623.5,299.3 L623.0,299.3 L622.5,299.3 L622.0,299.3 L621.5,299.4 L621.0,299.4 L620.5,299.4 L620.0,299.4 L619.5,299.4 L619.0,299.5 L618.5,299.5 L618.0,299.5 L617.5,299.5 L617.0,299.6 L616.5,299.6 L616.0,299.6 L615.5,299.6 L615.0,299.6 L614.5,299.7 L614.0,299.7 L613.5,299.7 L613.0,299.7 L612.5,299.7 L612.0,299.8 L611.5,299.8 L611.0,299.8 L610.5,299.8 L610.0,299.8 L609.5,299.9 L609.0,299.9 L608.5,299.9 L608.0,299.9 L607.5,299.9 L607.0,300.0 L606.5,300.0 L606.0,300.0 L605.5,300.0 L605.0,300.1 L604.5,300.1 L604.0,300.1 L603.5,300.1 L603.0,300.1 L602.5,300.2 L602.0,300.2 L601.5,300.2 L601.0,300.2 L600.5,300.2 L600.0,300.3 L599.5,300.3 L599.0,300.3 L598.5,300.3 L598.0,300.3 L597.5,300.4 L597.0,300.4 L596.5,300.4 L596.0,300.4 L595.5,300.4 L595.0,300.5 L594.5,300.5 L594.0,300.4 L593.5,300.2 L593.0,300.0 L592.5,299.8 L592.0,299.6 L591.5,299.4 L591.0,299.3 L590.5,299.1 L590.0,298.9 L589.5,298.7 L589.0,298.5 L588.5,298.5 L588.0,298.4 L587.5,298.4 L587.0,298.3 L586.5,298.3 L586.0,298.2 L585.5,298.2 L585.0,298.1 L584.5,298.1 L584.0,298.0 L583.5,298.0 L583.0,297.9 L582.5,297.9 L582.0,297.8 L581.5,297.8 L581.0,297.7 L580.5,297.7 L580.0,297.6 L579.5,297.6 L579.0,297.5 L578.5,297.5 L578.0,297.4 L577.5,297.4 L577.0,297.3 L576.5,297.3 L576.0,297.3 L575.5,297.2 L575.0,297.2 L574.5,297.1 L574.0,297.1 L573.5,297.0 L573.0,297.0 L572.5,296.9 L572.0,296.9 L571.5,296.8 L571.0,296.8 L570.5,296.7 L570.0,296.7 L569.5,296.6 L569.0,296.6 L568.5,296.5 L568.0,296.5 L567.5,296.4 L567.0,296.3 L566.5,296.1 L566.0,295.8 L565.5,295.5 L565.0,295.2 L564.5,295.0 L564.0,294.7 L563.5,294.4 L563.0,294.1 L562.5,293.9 L562.0,293.6 L561.5,293.3 L561.0,293.0 L560.5,292.4 L560.0,291.9 L559.5,291.3 L559.0,290.7 L558.5,290.1Z" fill="#cde6cf"/>
<path d="M772.5,260.3 L773.0,260.1 L773.5,259.9 L774.0,259.7 L774.5,259.6 L775.0,259.4 L775.5,259.2 L776.0,259.0 L776.5,258.8 L777.0,258.7 L777.5,258.5 L778.0,258.3 L778.5,258.3 L779.0,258.3 L779.5,258.3 L780.0,258.3 L780.5,258.3 L781.0,258.3 L781.5,258.3 L782.0,258.3 L782.5,258.3 L783.0,258.3 L783.5,258.3 L784.0,258.3 L784.5,258.3 L785.0,258.3 L785.5,258.3 L786.0,258.3 L786.5,258.3 L787.0,258.3 L787.5,258.3 L788.0,258.3 L788.5,258.3 L789.0,258.3 L789.5,258.3 L790.0,258.3 L790.5,258.3 L791.0,258.3 L791.5,258.3 L792.0,258.3 L792.5,258.3 L793.0,258.3 L793.5,258.3 L794.0,258.3 L794.5,258.3 L795.0,258.3 L795.5,258.3 L796.0,258.3 L796.5,258.3 L797.0,258.3 L797.5,258.3 L798.0,258.3 L798.5,258.3 L799.0,258.3 L799.5,258.3 L800.0,258.3 L800.5,258.3 L801.0,258.3 L801.5,258.3 L802.0,258.3 L802.5,258.3 L803.0,258.3 L803.5,258.3 L804.0,258.3 L804.5,258.3 L805.0,258.3 L805.5,258.3 L806.0,258.3 L806.5,258.3 L806.5,258.4 L806.0,258.8 L805.5,259.1 L805.0,259.5 L804.5,259.8 L804.0,260.1 L803.5,260.5 L803.0,260.8 L802.5,261.1 L802.0,261.5 L801.5,261.8 L801.0,262.2 L800.5,262.5 L800.0,262.8 L799.5,263.2 L799.0,263.5 L798.5,263.8 L798.0,264.2 L797.5,264.5 L797.0,264.8 L796.5,264.9 L796.0,264.9 L795.5,264.9 L795.0,264.9 L794.5,264.9 L794.0,264.9 L793.5,264.9 L793.0,264.9 L792.5,264.9 L792.0,264.9 L791.5,264.9 L791.0,264.9 L790.5,264.9 L790.0,264.9 L789.5,264.9 L789.0,264.7 L788.5,264.5 L788.0,264.4 L787.5,264.2 L787.0,264.0 L786.5,263.8 L786.0,263.6 L785.5,263.4 L785.0,263.3 L784.5,263.1 L784.0,262.9 L783.5,262.7 L783.0,262.5 L782.5,262.4 L782.0,262.2 L781.5,262.0 L781.0,261.8 L780.5,261.6 L780.0,261.4 L779.5,261.3 L779.0,261.2 L778.5,261.2 L778.0,261.1 L777.5,261.1 L777.0,261.0 L776.5,261.0 L776.0,260.9 L775.5,260.9 L775.0,260.8 L774.5,260.7 L774.0,260.7 L773.5,260.6 L773.0,260.6 L772.5,260.5Z" fill="#cde6cf"/>
<path d="M825.5,258.3 L826.0,258.3 L826.5,258.3 L827.0,258.3 L827.5,258.3 L828.0,258.3 L828.5,258.3 L829.0,258.3 L829.5,258.3 L830.0,258.3 L830.5,258.3 L831.0,258.3 L831.5,258.3 L832.0,258.3 L832.5,258.3 L833.0,258.3 L833.5,258.3 L834.0,258.3 L834.5,258.3 L835.0,258.3 L835.5,258.3 L836.0,258.3 L836.5,258.3 L837.0,258.3 L837.5,258.3 L838.0,258.3 L838.5,258.3 L839.0,258.3 L839.5,258.3 L840.0,258.3 L840.5,258.3 L841.0,258.3 L841.5,258.3 L842.0,258.3 L842.5,258.3 L843.0,258.3 L843.5,258.3 L844.0,258.3 L844.5,258.3 L845.0,258.3 L845.5,258.3 L846.0,258.3 L846.5,258.3 L847.0,258.3 L847.5,258.3 L848.0,258.3 L848.5,258.3 L849.0,258.3 L849.5,258.3 L850.0,258.3 L850.5,258.3 L851.0,258.3 L851.5,258.3 L852.0,258.3 L852.5,258.3 L853.0,258.3 L853.5,258.3 L854.0,258.3 L854.5,258.3 L855.0,258.3 L855.5,258.3 L856.0,258.6 L856.5,258.9 L857.0,259.3 L857.5,259.6 L858.0,259.9 L858.5,260.2 L859.0,260.8 L859.5,261.7 L860.0,262.7 L860.0,263.2 L859.5,263.2 L859.0,263.2 L858.5,263.5 L858.0,263.9 L857.5,264.3 L857.0,264.8 L856.5,265.2 L856.0,265.6 L855.5,266.1 L855.0,266.5 L854.5,266.9 L854.0,267.4 L853.5,267.8 L853.0,268.2 L852.5,268.7 L852.0,269.1 L851.5,269.5 L851.0,270.0 L850.5,270.3 L850.0,270.2 L849.5,270.2 L849.0,270.1 L848.5,270.1 L848.0,270.0 L847.5,270.0 L847.0,269.9 L846.5,269.8 L846.0,269.8 L845.5,269.7 L845.0,269.7 L844.5,269.6 L844.0,269.6 L843.5,269.5 L843.0,269.5 L842.5,269.4 L842.0,269.3 L841.5,269.3 L841.0,269.2 L840.5,269.2 L840.0,269.1 L839.5,269.1 L839.0,269.0 L838.5,269.0 L838.0,268.9 L837.5,268.8 L837.0,268.8 L836.5,268.7 L836.0,268.7 L835.5,268.6 L835.0,268.6 L834.5,268.5 L834.0,268.5 L833.5,268.4 L833.0,268.4 L832.5,268.3 L832.0,268.2 L831.5,268.0 L831.0,267.3 L830.5,266.5 L830.0,265.8 L829.5,265.0 L829.0,264.3 L828.5,263.5 L828.0,262.8 L827.5,262.0 L827.0,261.3 L826.5,260.5 L826.0,259.8 L825.5,259.0Z" fill="#cde6cf"/>
<line x1="-0.5" y1="428" x2="-0.5" y2="457" stroke="#1f8f1f" stroke-width="1"/>
<rect x="-3" y="428" width="6.4" height="29" fill="#12a012"/>
<line x1="8.5" y1="392" x2="8.5" y2="429" stroke="#1f8f1f" stroke-width="1"/>
<rect x="6" y="406" width="6.4" height="23" fill="#12a012"/>
<line x1="17.5" y1="380" x2="17.5" y2="418" stroke="#1f8f1f" stroke-width="1"/>
<rect x="15" y="403" width="6.4" height="4" fill="#12a012"/>
<line x1="25.5" y1="401" x2="25.5" y2="431" stroke="#8c1515" stroke-width="1"/>
<rect x="23" y="403" width="6.4" height="28" fill="#a80c0c"/>
<line x1="34.5" y1="406" x2="34.5" y2="431" stroke="#1f8f1f" stroke-width="1"/>
<rect x="32" y="407" width="6.4" height="24" fill="#12a012"/>
<line x1="43.5" y1="374" x2="43.5" y2="416" stroke="#1f8f1f" stroke-width="1"/>
<rect x="41" y="381" width="6.4" height="27" fill="#12a012"/>
<line x1="51.5" y1="357" x2="51.5" y2="398" stroke="#8c1515" stroke-width="1"/>
<rect x="49" y="381" width="6.4" height="14" fill="#a80c0c"/>
<line x1="60.5" y1="376" x2="60.5" y2="424" stroke="#8c1515" stroke-width="1"/>
<rect x="58" y="394" width="6.4" height="28" fill="#a80c0c"/>
<line x1="69.5" y1="390" x2="69.5" y2="425" stroke="#1f8f1f" stroke-width="1"/>
<rect x="67" y="408" width="6.4" height="14" fill="#12a012"/>
<line x1="77.5" y1="386" x2="77.5" y2="431" stroke="#8c1515" stroke-width="1"/>
<rect x="75" y="408" width="6.4" height="23" fill="#a80c0c"/>
<line x1="86.5" y1="420" x2="86.5" y2="449" stroke="#8c1515" stroke-width="1"/>
<rect x="84" y="430" width="6.4" height="19" fill="#a80c0c"/>
<line x1="95.5" y1="396" x2="95.5" y2="449" stroke="#1f8f1f" stroke-width="1"/>
<rect x="93" y="403" width="6.4" height="46" fill="#12a012"/>
<line x1="103.5" y1="386" x2="103.5" y2="410" stroke="#1f8f1f" stroke-width="1"/>
<rect x="101" y="394" width="6.4" height="8" fill="#12a012"/>
<line x1="112.5" y1="331" x2="112.5" y2="394" stroke="#1f8f1f" stroke-width="1"/>
<rect x="110" y="335" width="6.4" height="59" fill="#12a012"/>
<line x1="121.5" y1="225" x2="121.5" y2="336" stroke="#1f8f1f" stroke-width="1"/>
<rect x="119" y="256" width="6.4" height="80" fill="#12a012"/>
<line x1="129.5" y1="230" x2="129.5" y2="279" stroke="#1f8f1f" stroke-width="1"/>
<rect x="127" y="250" width="6.4" height="7" fill="#12a012"/>
<line x1="138.5" y1="216" x2="138.5" y2="271" stroke="#8c1515" stroke-width="1"/>
<rect x="136" y="250" width="6.4" height="20" fill="#a80c0c"/>
<line x1="147.5" y1="256" x2="147.5" y2="308" stroke="#8c1515" stroke-width="1"/>
<rect x="145" y="269" width="6.4" height="23" fill="#a80c0c"/>
<line x1="155.5" y1="234" x2="155.5" y2="295" stroke="#1f8f1f" stroke-width="1"/>
<rect x="153" y="236" width="6.4" height="56" fill="#12a012"/>
<line x1="164.5" y1="210" x2="164.5" y2="266" stroke="#1f8f1f" stroke-width="1"/>
<rect x="162" y="227" width="6.4" height="10" fill="#12a012"/>
<line x1="173.5" y1="178" x2="173.5" y2="229" stroke="#1f8f1f" stroke-width="1"/>
<rect x="171" y="178" width="6.4" height="50" fill="#12a012"/>
<line x1="181.5" y1="152" x2="181.5" y2="197" stroke="#1f8f1f" stroke-width="1"/>
<rect x="179" y="154" width="6.4" height="25" fill="#12a012"/>
<line x1="190.5" y1="110" x2="190.5" y2="168" stroke="#8c1515" stroke-width="1"/>
<rect x="188" y="154" width="6.4" height="14" fill="#a80c0c"/>
<line x1="199.5" y1="144" x2="199.5" y2="210" stroke="#8c1515" stroke-width="1"/>
<rect x="197" y="167" width="6.4" height="43" fill="#a80c0c"/>
<line x1="207.5" y1="178" x2="207.5" y2="222" stroke="#8c1515" stroke-width="1"/>
<rect x="205" y="209" width="6.4" height="13" fill="#a80c0c"/>
<line x1="216.5" y1="203" x2="216.5" y2="274" stroke="#1f8f1f" stroke-width="1"/>
<rect x="214" y="219" width="6.4" height="4" fill="#12a012"/>
<line x1="225.5" y1="214" x2="225.5" y2="267" stroke="#8c1515" stroke-width="1"/>
<rect x="223" y="219" width="6.4" height="48" fill="#a80c0c"/>
<line x1="233.5" y1="234" x2="233.5" y2="266" stroke="#1f8f1f" stroke-width="1"/>
<rect x="231" y="251" width="6.4" height="15" fill="#12a012"/>
<line x1="242.5" y1="238" x2="242.5" y2="314" stroke="#8c1515" stroke-width="1"/>
<rect x="240" y="251" width="6.4" height="49" fill="#a80c0c"/>
<line x1="251.5" y1="259" x2="251.5" y2="301" stroke="#1f8f1f" stroke-width="1"/>
<rect x="249" y="285" width="6.4" height="15" fill="#12a012"/>
<line x1="259.5" y1="274" x2="259.5" y2="326" stroke="#8c1515" stroke-width="1"/>
<rect x="257" y="285" width="6.4" height="41" fill="#a80c0c"/>
<line x1="268.5" y1="273" x2="268.5" y2="349" stroke="#1f8f1f" stroke-width="1"/>
<rect x="266" y="275" width="6.4" height="51" fill="#12a012"/>
<line x1="277.5" y1="263" x2="277.5" y2="322" stroke="#8c1515" stroke-width="1"/>
<rect x="275" y="276" width="6.4" height="36" fill="#a80c0c"/>
<line x1="286.5" y1="281" x2="286.5" y2="332" stroke="#1f8f1f" stroke-width="1"/>
<rect x="284" y="286" width="6.4" height="26" fill="#12a012"/>
<line x1="294.5" y1="270" x2="294.5" y2="314" stroke="#8c1515" stroke-width="1"/>
<rect x="292" y="286" width="6.4" height="21" fill="#a80c0c"/>
<line x1="303.5" y1="293" x2="303.5" y2="340" stroke="#8c1515" stroke-width="1"/>
<rect x="301" y="306" width="6.4" height="27" fill="#a80c0c"/>
<line x1="312.5" y1="327" x2="312.5" y2="356" stroke="#8c1515" stroke-width="1"/>
<rect x="310" y="332" width="6.4" height="23" fill="#a80c0c"/>
<line x1="320.5" y1="283" x2="320.5" y2="368" stroke="#1f8f1f" stroke-width="1"/>
<rect x="318" y="301" width="6.4" height="53" fill="#12a012"/>
<line x1="329.5" y1="298" x2="329.5" y2="350" stroke="#8c1515" stroke-width="1"/>
<rect x="327" y="301" width="6.4" height="49" fill="#a80c0c"/>
<line x1="338.5" y1="346" x2="338.5" y2="406" stroke="#8c1515" stroke-width="1"/>
<rect x="336" y="349" width="6.4" height="53" fill="#a80c0c"/>
<line x1="346.5" y1="377" x2="346.5" y2="406" stroke="#1f8f1f" stroke-width="1"/>
<rect x="344" y="396" width="6.4" height="6" fill="#12a012"/>
<line x1="355.5" y1="355" x2="355.5" y2="398" stroke="#1f8f1f" stroke-width="1"/>
<rect x="353" y="363" width="6.4" height="34" fill="#12a012"/>
<line x1="364.5" y1="285" x2="364.5" y2="375" stroke="#1f8f1f" stroke-width="1"/>
<rect x="362" y="287" width="6.4" height="76" fill="#12a012"/>
<line x1="372.5" y1="276" x2="372.5" y2="324" stroke="#8c1515" stroke-width="1"/>
<rect x="370" y="287" width="6.4" height="28" fill="#a80c0c"/>
<line x1="381.5" y1="282" x2="381.5" y2="340" stroke="#8c1515" stroke-width="1"/>
<rect x="379" y="314" width="6.4" height="26" fill="#a80c0c"/>
<line x1="390.5" y1="278" x2="390.5" y2="340" stroke="#1f8f1f" stroke-width="1"/>
<rect x="388" y="301" width="6.4" height="39" fill="#12a012"/>
<line x1="398.5" y1="286" x2="398.5" y2="318" stroke="#8c1515" stroke-width="1"/>
<rect x="396" y="301" width="6.4" height="17" fill="#a80c0c"/>
<line x1="407.5" y1="295" x2="407.5" y2="335" stroke="#8c1515" stroke-width="1"/>
<rect x="405" y="317" width="6.4" height="15" fill="#a80c0c"/>
<line x1="416.5" y1="268" x2="416.5" y2="335" stroke="#1f8f1f" stroke-width="1"/>
<rect x="414" y="270" width="6.4" height="62" fill="#12a012"/>
<line x1="424.5" y1="263" x2="424.5" y2="302" stroke="#8c1515" stroke-width="1"/>
<rect x="422" y="270" width="6.4" height="31" fill="#a80c0c"/>
<line x1="433.5" y1="275" x2="433.5" y2="323" stroke="#8c1515" stroke-width="1"/>
<rect x="431" y="300" width="6.4" height="18" fill="#a80c0c"/>
<line x1="442.5" y1="290" x2="442.5" y2="336" stroke="#1f8f1f" stroke-width="1"/>
<rect x="440" y="302" width="6.4" height="16" fill="#12a012"/>
<line x1="450.5" y1="266" x2="450.5" y2="302" stroke="#1f8f1f" stroke-width="1"/>
<rect x="448" y="284" width="6.4" height="18" fill="#12a012"/>
<line x1="459.5" y1="254" x2="459.5" y2="294" stroke="#1f8f1f" stroke-width="1"/>
<rect x="457" y="271" width="6.4" height="13" fill="#12a012"/>
<line x1="468.5" y1="251" x2="468.5" y2="285" stroke="#1f8f1f" stroke-width="1"/>
<rect x="466" y="253" width="6.4" height="19" fill="#12a012"/>
<line x1="476.5" y1="250" x2="476.5" y2="288" stroke="#8c1515" stroke-width="1"/>
<rect x="474" y="253" width="6.4" height="8" fill="#a80c0c"/>
<line x1="485.5" y1="203" x2="485.5" y2="261" stroke="#1f8f1f" stroke-width="1"/>
<rect x="483" y="211" width="6.4" height="50" fill="#12a012"/>
<line x1="494.5" y1="205" x2="494.5" y2="230" stroke="#8c1515" stroke-width="1"/>
<rect x="492" y="211" width="6.4" height="8" fill="#a80c0c"/>
<line x1="502.5" y1="173" x2="502.5" y2="220" stroke="#1f8f1f" stroke-width="1"/>
<rect x="500" y="177" width="6.4" height="42" fill="#12a012"/>
<line x1="511.5" y1="175" x2="511.5" y2="195" stroke="#8c1515" stroke-width="1"/>
<rect x="509" y="177" width="6.4" height="7" fill="#a80c0c"/>
<line x1="520.5" y1="162" x2="520.5" y2="195" stroke="#1f8f1f" stroke-width="1"/>
<rect x="518" y="174" width="6.4" height="10" fill="#12a012"/>
<line x1="528.5" y1="174" x2="528.5" y2="246" stroke="#8c1515" stroke-width="1"/>
<rect x="526" y="174" width="6.4" height="60" fill="#a80c0c"/>
<line x1="537.5" y1="225" x2="537.5" y2="265" stroke="#8c1515" stroke-width="1"/>
<rect x="535" y="234" width="6.4" height="9" fill="#a80c0c"/>
<line x1="546.5" y1="225" x2="546.5" y2="318" stroke="#8c1515" stroke-width="1"/>
<rect x="544" y="242" width="6.4" height="59" fill="#a80c0c"/>
<line x1="554.5" y1="279" x2="554.5" y2="313" stroke="#8c1515" stroke-width="1"/>
<rect x="552" y="300" width="6.4" height="13" fill="#a80c0c"/>
<line x1="563.5" y1="290" x2="563.5" y2="334" stroke="#1f8f1f" stroke-width="1"/>
<rect x="561" y="294" width="6.4" height="19" fill="#12a012"/>
<line x1="572.5" y1="291" x2="572.5" y2="319" stroke="#8c1515" stroke-width="1"/>
<rect x="570" y="294" width="6.4" height="10" fill="#a80c0c"/>
<line x1="580.5" y1="284" x2="580.5" y2="332" stroke="#8c1515" stroke-width="1"/>
<rect x="578" y="303" width="6.4" height="25" fill="#a80c0c"/>
<line x1="589.5" y1="327" x2="589.5" y2="330" stroke="#8c1515" stroke-width="1"/>
<rect x="587" y="327" width="6.4" height="3" fill="#a80c0c"/>
<line x1="598.5" y1="274" x2="598.5" y2="345" stroke="#1f8f1f" stroke-width="1"/>
<rect x="596" y="276" width="6.4" height="54" fill="#12a012"/>
<line x1="606.5" y1="264" x2="606.5" y2="304" stroke="#8c1515" stroke-width="1"/>
<rect x="604" y="276" width="6.4" height="28" fill="#a80c0c"/>
<line x1="615.5" y1="255" x2="615.5" y2="304" stroke="#1f8f1f" stroke-width="1"/>
<rect x="613" y="261" width="6.4" height="43" fill="#12a012"/>
<line x1="624.5" y1="230" x2="624.5" y2="276" stroke="#1f8f1f" stroke-width="1"/>
<rect x="622" y="233" width="6.4" height="29" fill="#12a012"/>
<line x1="632.5" y1="201" x2="632.5" y2="240" stroke="#1f8f1f" stroke-width="1"/>
<rect x="630" y="212" width="6.4" height="22" fill="#12a012"/>
<line x1="641.5" y1="208" x2="641.5" y2="240" stroke="#8c1515" stroke-width="1"/>
<rect x="639" y="212" width="6.4" height="19" fill="#a80c0c"/>
<line x1="650.5" y1="208" x2="650.5" y2="249" stroke="#1f8f1f" stroke-width="1"/>
<rect x="648" y="222" width="6.4" height="9" fill="#12a012"/>
<line x1="659.5" y1="204" x2="659.5" y2="235" stroke="#1f8f1f" stroke-width="1"/>
<rect x="657" y="215" width="6.4" height="10" fill="#12a012"/>
<line x1="667.5" y1="215" x2="667.5" y2="262" stroke="#8c1515" stroke-width="1"/>
<rect x="665" y="215" width="6.4" height="37" fill="#a80c0c"/>
<line x1="676.5" y1="245" x2="676.5" y2="284" stroke="#8c1515" stroke-width="1"/>
<rect x="674" y="251" width="6.4" height="15" fill="#a80c0c"/>
<line x1="685.5" y1="256" x2="685.5" y2="276" stroke="#8c1515" stroke-width="1"/>
<rect x="683" y="265" width="6.4" height="7" fill="#a80c0c"/>
<path d="M0.0,497.4 L51.5,497.4 L70.6,478.3 L269.3,478.3 L276.7,475.3 L329.6,475.3 L338.5,461.2 L341.4,446.5 L344.4,425.9 L354.1,410.7 L362.6,406.4 L379.6,404.9 L391.5,395.0 L403.4,377.1 L415.2,354.4 L433.4,352.2 L436.3,349.8 L450.2,338.4 L459.6,336.9 L466.0,327.6 L477.6,322.6 L485.8,312.7 L494.1,291.3 L502.3,289.8 L649.1,290.5 L663.9,285.3 L675.8,278.9 L763.1,278.1 L772.2,260.4 L778.0,258.3 L855.5,258.3 L858.8,260.4 L865.4,272.8 L875.3,284.4 L910.0,284.4" fill="none" stroke="#e09a48" stroke-width="1"/>
<path d="M0.0,524.5 L11.8,528.3 L23.5,528.9 L33.8,531.8 L44.2,514.2 L53.0,506.8 L70.6,474.5 L85.4,470.0 L94.2,465.6 L111.8,459.7 L121.8,445.7 L127.7,444.2 L139.6,444.2 L148.5,448.0 L157.4,447.2 L164.8,450.2 L184.1,450.9 L191.3,453.3 L203.1,453.3 L206.0,454.7 L217.8,450.0 L223.7,448.5 L234.0,447.1 L242.8,438.2 L250.2,435.3 L259.0,433.2 L265.0,425.0 L273.1,416.7 L280.6,413.0 L293.9,411.5 L304.3,403.3 L311.8,408.5 L329.6,408.5 L336.3,400.3 L343.0,369.1 L346.6,343.2 L359.8,339.5 L365.7,337.5 L388.5,337.5 L395.6,318.0 L403.4,300.7 L408.6,290.3 L412.9,272.9 L416.4,259.1 L421.6,252.1 L430.0,249.5 L439.4,248.3 L451.3,239.4 L460.2,236.5 L467.6,245.4 L476.5,245.4 L483.9,247.6 L489.1,254.5 L497.3,266.3 L510.7,277.5 L527.0,284.1 L543.3,286.4 L555.2,286.4 L561.1,293.1 L567.1,296.4 L589.0,298.5 L594.3,300.5 L632.7,298.9 L648.7,311.4 L661.0,311.3 L668.4,307.6 L675.8,311.3 L702.5,311.0 L711.4,287.5 L720.4,287.2 L728.5,271.5 L738.1,271.2 L746.3,258.1 L753.2,258.3 L762.3,255.0 L771.4,260.4 L779.6,261.3 L789.5,264.9 L796.9,264.9 L806.0,258.8 L815.1,252.2 L824.2,257.1 L831.6,268.2 L840.7,269.2 L850.6,270.3 L858.8,263.2 L894.3,263.2 L902.6,252.2 L910.0,252.2" fill="none" stroke="#2e7a30" stroke-width="1"/>
<path d="M0.0,462.7 L8.8,461.2 L17.7,452.4 L29.4,443.5 L35.3,434.7 L40.1,426.4 L44.5,416.0 L52.0,413.8 L103.9,414.2 L112.8,400.4 L117.7,373.0 L121.3,349.5 L129.6,349.3 L136.9,344.3 L155.6,343.8 L164.0,340.7 L183.7,310.0 L185.6,303.8 L190.8,291.2 L200.0,290.5 L206.3,289.3 L215.2,285.6 L225.6,278.2 L239.0,277.5 L311.8,277.9 L319.2,262.0 L322.7,258.9 L329.9,254.9 L335.4,258.6 L407.5,258.2 L413.2,269.8 L421.5,285.5 L446.2,316.0 L454.5,321.8 L461.0,323.6 L467.7,327.6 L477.6,327.6 L485.8,304.5 L494.9,303.6 L503.1,289.6 L521.0,284.1 L562.6,284.1 L573.0,281.2 L589.7,253.4 L684.7,253.1" fill="none" stroke="#9a2a34" stroke-width="1"/>
<path d="M0.0,432.5 L8.2,432.5 L16.3,425.4 L40.1,425.4 L52.0,413.8 L59.4,413.1 L68.3,408.9 L77.2,393.8 L86.1,401.9 L103.9,401.9 L112.8,394.5 L118.2,373.0 L121.3,337.0 L129.6,337.0 L136.9,332.3 L153.6,332.3 L164.0,328.7 L173.7,294.9 L181.9,275.6 L188.6,240.0 L190.2,227.9 L199.9,209.3 L217.0,209.3 L223.6,204.1 L233.3,192.3 L242.9,210.8 L251.8,210.8 L259.3,216.0 L268.2,245.7 L275.6,260.0 L277.6,263.4 L285.0,275.2 L293.9,279.0 L312.5,297.5 L319.2,312.4 L326.6,315.3 L332.5,319.8 L338.5,334.6 L347.9,335.9 L359.8,339.5 L373.7,343.1 L381.6,343.1 L407.3,342.5 L419.2,335.5 L431.1,322.7 L442.1,302.8 L449.5,302.5 L459.4,296.2 L469.3,293.2 L476.7,292.6 L485.8,269.8 L494.9,269.0 L504.0,254.1 L512.1,253.7 L520.3,232.8 L526.3,230.5 L537.4,224.6 L545.6,238.7 L554.5,239.4 L563.4,247.3 L580.8,247.4 L589.7,250.4 L597.9,258.6 L604.5,275.6 L610.5,283.8 L622.4,287.5 L633.5,271.9 L668.4,271.9 L675.1,252.6 L684.7,251.1" fill="none" stroke="#1f2a8a" stroke-width="1"/>
<path d="M0.0,263.8 L8.5,250.7 L17.2,297.9 L25.8,284.5 L34.5,325.4 L43.2,275.6 L51.9,309.8 L60.6,286.8 L69.3,305.3 L86.4,353.0 L95.4,301.5 L113.0,397.0 L122.2,396.0 L139.0,288.3 L155.1,339.1 L164.8,301.6 L181.1,331.3 L190.8,271.2 L207.1,316.1 L239.0,260.4 L250.9,259.7 L259.3,211.6 L268.2,217.2 L277.6,177.2 L285.4,183.2 L294.5,174.5 L303.6,233.5 L312.1,242.6 L320.7,300.5 L326.6,307.2 L338.5,293.8 L347.4,303.5 L356.3,327.2 L363.0,328.7 L372.6,276.7 L381.5,301.2 L391.0,257.0 L398.6,232.8 L407.5,212.3 L415.6,229.5 L433.5,215.2 L440.9,250.0 L449.5,262.4 L458.6,270.6" fill="none" stroke="#111" stroke-width="1"/>
<polyline points="479.4,343.6 479.4,464.9 840.7,298.9" fill="none" stroke="#4a5fd4" stroke-width="2"/>
<polyline points="469.5,352.3 479.4,343.6 493.8,353.5" fill="none" stroke="#4a5fd4" stroke-width="2"/>
<polyline points="813.4,301.7 840.7,298.9 831.6,315.4" fill="none" stroke="#4a5fd4" stroke-width="2"/>
<ellipse cx="901.8" cy="279.5" rx="50.2" ry="51" fill="none" stroke="#c81e28" stroke-width="2.2"/>
<rect x="180.5" y="68" width="15.7" height="13.7" fill="#fff" fill-opacity="0.85"/>
<rect x="181" y="71" width="14.7" height="10.7" fill="url(#lg)"/>
<text x="188.3" y="79.4" fill="#22227a" font-size="11" text-anchor="middle" font-family='"Liberation Serif", serif'>I</text>
<rect x="180.5" y="90" width="17.4" height="13.2" fill="#fff" fill-opacity="0.85"/>
<rect x="181" y="93" width="16.4" height="10.2" fill="url(#lg)"/>
<text x="189.2" y="100.9" fill="#222a50" font-size="11" text-anchor="middle" font-family='"Liberation Sans", sans-serif'>v</text>
<rect x="510.6" y="141.6" width="18.5" height="14.0" fill="#fff" fill-opacity="0.85"/>
<rect x="511.1" y="144.6" width="17.5" height="11.0" fill="url(#lg)"/>
<text x="519.9" y="153.3" fill="#222" font-size="11" text-anchor="middle" font-family='"Liberation Sans", sans-serif'>B</text>
<rect x="640.6" y="181.7" width="13.9" height="13.9" fill="#fff" fill-opacity="0.85"/>
<rect x="641.1" y="184.7" width="12.9" height="10.9" fill="url(#lg)"/>
<text x="647.5" y="193.3" fill="#222" font-size="11" text-anchor="middle" font-family='"Liberation Sans", sans-serif'>i</text>
<rect x="666.7" y="289" width="17.0" height="15.6" fill="#fff" fill-opacity="0.85"/>
<rect x="667.2" y="292" width="16.0" height="12.6" fill="url(#lg)"/>
<text x="675.2" y="302.3" fill="#333" font-size="11" text-anchor="middle" font-family='"Liberation Sans", sans-serif'>ii</text>
<rect x="590.7" y="346.5" width="17.7" height="13.2" fill="#fff" fill-opacity="0.85"/>
<rect x="591.2" y="349.5" width="16.7" height="10.2" fill="url(#lg)"/>
<text x="599.5" y="357.4" fill="#222" font-size="11" text-anchor="middle" font-family='"Liberation Sans", sans-serif'>C</text>
<rect x="590.8" y="364.6" width="18.3" height="13.7" fill="#fff" fill-opacity="0.85"/>
<rect x="591.3" y="367.6" width="17.3" height="10.7" fill="url(#lg)"/>
<text x="600.0" y="376.0" fill="#22227a" font-size="11" text-anchor="middle" font-family='"Liberation Serif", serif'>II</text>
<rect x="336.7" y="408.8" width="18.3" height="16.6" fill="#fff" fill-opacity="0.85"/>
<rect x="337.2" y="411.8" width="17.3" height="13.6" fill="url(#lg)"/>
<text x="345.9" y="423.1" fill="#c0202c" font-size="11" text-anchor="middle" font-family='"Liberation Sans", sans-serif'>C</text>
<rect x="337.2" y="435.1" width="17.8" height="14.4" fill="#fff" fill-opacity="0.85"/>
<rect x="337.7" y="438.1" width="16.8" height="11.4" fill="url(#lg)"/>
<text x="346.1" y="447.2" fill="#222" font-size="11" text-anchor="middle" font-family='"Liberation Sans", sans-serif'>A</text>
<rect x="258.1" y="356.5" width="18.2" height="12.4" fill="#fff" fill-opacity="0.85"/>
<rect x="258.6" y="359.5" width="17.2" height="9.4" fill="url(#lg)"/>
<text x="267.2" y="366.6" fill="#c0202c" font-size="11" text-anchor="middle" font-family='"Liberation Sans", sans-serif'>a</text>
<rect x="319.4" y="261.8" width="18.1" height="13.7" fill="#fff" fill-opacity="0.85"/>
<rect x="319.9" y="264.8" width="17.1" height="10.7" fill="url(#lg)"/>
<text x="328.4" y="273.2" fill="#c0202c" font-size="11" text-anchor="middle" font-family='"Liberation Sans", sans-serif'>b</text>
<rect x="362.5" y="255.5" width="18.0" height="15.3" fill="#fff" fill-opacity="0.85"/>
<rect x="363" y="258.5" width="17.0" height="12.3" fill="url(#lg)"/>
<text x="371.5" y="268.5" fill="#c0202c" font-size="11" text-anchor="middle" font-family='"Liberation Sans", sans-serif'>a</text>
<rect x="432.1" y="334.5" width="18.6" height="15.3" fill="#fff" fill-opacity="0.85"/>
<rect x="432.6" y="337.5" width="17.6" height="12.3" fill="url(#lg)"/>
<text x="441.4" y="347.5" fill="#c0202c" font-size="11" text-anchor="middle" font-family='"Liberation Sans", sans-serif'>b</text>
<line x1="0" y1="365.5" x2="684.6" y2="365.5" stroke="#222" stroke-width="1" stroke-dasharray="3,3"/>
<line x1="687" y1="365.5" x2="1288" y2="365.5" stroke="#222" stroke-width="1" stroke-dasharray="9,6,3,6"/>
<circle cx="684.6" cy="365.6" r="1.4" fill="#333" stroke="#222" stroke-width="0.6"/>
<line x1="204" y1="80" x2="204" y2="497.8" stroke="#000" stroke-width="2.2"/>
<line x1="591" y1="91" x2="590" y2="495.3" stroke="#000" stroke-width="2.2"/>
<text x="308.4" y="112.1" font-family='"Liberation Serif", serif' font-weight="bold" font-size="10.5" textLength="70" lengthAdjust="spacingAndGlyphs" fill="#111">Running Flat</text>
<line x1="13.2" y1="357" x2="13.2" y2="364" stroke="#333" stroke-width="1"/>
<ellipse cx="13" cy="364.6" rx="1.6" ry="1.1" fill="#fff" stroke="#333" stroke-width="1"/>
<rect x="13.1" y="338.8" width="82.9" height="19" fill="#4a1a38" stroke="#2a0a1c" stroke-width="0.8"/>
<text x="17.7" y="352.2" font-family='"Liberation Sans", sans-serif' font-size="11.5" textLength="72.8" lengthAdjust="spacingAndGlyphs" fill="#7e4a6e">Stop(Net)(S)</text>
</g>
<line x1="0" y1="18.5" x2="1302.5" y2="18.5" stroke="#222" stroke-width="1"/>
<line x1="1302.5" y1="18.5" x2="1302.5" y2="581.5" stroke="#222" stroke-width="1"/>
<line x1="0" y1="581.5" x2="1302.5" y2="581.5" stroke="#222" stroke-width="1"/>
<line x1="0.7" y1="18" x2="0.7" y2="31" stroke="#222" stroke-width="1.4"/>
<line x1="0.7" y1="568" x2="0.7" y2="581.5" stroke="#222" stroke-width="1.4"/>
<polyline points="0,31 1288,31 1288,568.8 0,568.8" fill="none" stroke="#000" stroke-width="2"/>
<line x1="201.5" y1="18.5" x2="201.5" y2="21.8" stroke="#333" stroke-width="1"/>
<line x1="486.4" y1="18.5" x2="486.4" y2="21.8" stroke="#333" stroke-width="1"/>
<line x1="838.7" y1="18.5" x2="838.7" y2="21.8" stroke="#333" stroke-width="1"/>
<line x1="904.2" y1="18.5" x2="904.2" y2="24.0" stroke="#333" stroke-width="1"/>
<line x1="970.6" y1="18.5" x2="970.6" y2="21.8" stroke="#333" stroke-width="1"/>
<line x1="1036.4" y1="18.5" x2="1036.4" y2="24.0" stroke="#333" stroke-width="1"/>
<line x1="1102" y1="18.5" x2="1102" y2="21.8" stroke="#333" stroke-width="1"/>
<line x1="1168.4" y1="18.5" x2="1168.4" y2="24.0" stroke="#333" stroke-width="1"/>
<line x1="1234.2" y1="18.5" x2="1234.2" y2="21.8" stroke="#333" stroke-width="1"/>
<polygon points="768.1,19 777.1,19 772.6,28.5" fill="#c9a92a"/>
<line x1="772.5" y1="20" x2="772.5" y2="34" stroke="#6a5a20" stroke-width="1"/>
<text x="770.8" y="12.7" font-size="10.8" text-anchor="middle" fill="#111" font-family='"Liberation Sans", sans-serif' textLength="26.5" lengthAdjust="spacingAndGlyphs">2012</text>
<line x1="1289" y1="559.5" x2="1302" y2="559.5" stroke="#222" stroke-width="1"/>
<text x="1305.6" y="564.1" font-size="10.8" fill="#111" font-family='"Liberation Sans", sans-serif' textLength="38" lengthAdjust="spacingAndGlyphs">0.9500</text>
<line x1="1297.8" y1="550.5" x2="1302" y2="550.5" stroke="#222" stroke-width="1"/>
<line x1="1297.8" y1="540.5" x2="1302" y2="540.5" stroke="#222" stroke-width="1"/>
<line x1="1297.8" y1="530.5" x2="1302" y2="530.5" stroke="#222" stroke-width="1"/>
<line x1="1297.8" y1="520.5" x2="1302" y2="520.5" stroke="#222" stroke-width="1"/>
<line x1="1295.3" y1="511.5" x2="1302" y2="511.5" stroke="#222" stroke-width="1"/>
<line x1="1297.8" y1="501.5" x2="1302" y2="501.5" stroke="#222" stroke-width="1"/>
<line x1="1297.8" y1="491.5" x2="1302" y2="491.5" stroke="#222" stroke-width="1"/>
<line x1="1297.8" y1="482.5" x2="1302" y2="482.5" stroke="#222" stroke-width="1"/>
<line x1="1297.8" y1="472.5" x2="1302" y2="472.5" stroke="#222" stroke-width="1"/>
<line x1="1289" y1="462.5" x2="1302" y2="462.5" stroke="#222" stroke-width="1"/>
<text x="1305.6" y="467.1" font-size="10.8" fill="#111" font-family='"Liberation Sans", sans-serif' textLength="38" lengthAdjust="spacingAndGlyphs">0.9750</text>
<line x1="1297.8" y1="452.5" x2="1302" y2="452.5" stroke="#222" stroke-width="1"/>
<line x1="1297.8" y1="443.5" x2="1302" y2="443.5" stroke="#222" stroke-width="1"/>
<line x1="1297.8" y1="433.5" x2="1302" y2="433.5" stroke="#222" stroke-width="1"/>
<line x1="1297.8" y1="423.5" x2="1302" y2="423.5" stroke="#222" stroke-width="1"/>
<line x1="1295.3" y1="413.5" x2="1302" y2="413.5" stroke="#222" stroke-width="1"/>
<line x1="1297.8" y1="404.5" x2="1302" y2="404.5" stroke="#222" stroke-width="1"/>
<line x1="1297.8" y1="394.5" x2="1302" y2="394.5" stroke="#222" stroke-width="1"/>
<line x1="1297.8" y1="384.5" x2="1302" y2="384.5" stroke="#222" stroke-width="1"/>
<line x1="1297.8" y1="375.5" x2="1302" y2="375.5" stroke="#222" stroke-width="1"/>
<line x1="1289" y1="365.5" x2="1302" y2="365.5" stroke="#222" stroke-width="1"/>
<text x="1305.6" y="370.1" font-size="10.8" fill="#111" font-family='"Liberation Sans", sans-serif' textLength="38" lengthAdjust="spacingAndGlyphs">1.0000</text>
<line x1="1297.8" y1="355.5" x2="1302" y2="355.5" stroke="#222" stroke-width="1"/>
<line x1="1297.8" y1="345.5" x2="1302" y2="345.5" stroke="#222" stroke-width="1"/>
<line x1="1297.8" y1="336.5" x2="1302" y2="336.5" stroke="#222" stroke-width="1"/>
<line x1="1297.8" y1="326.5" x2="1302" y2="326.5" stroke="#222" stroke-width="1"/>
<line x1="1295.3" y1="316.5" x2="1302" y2="316.5" stroke="#222" stroke-width="1"/>
<line x1="1297.8" y1="306.5" x2="1302" y2="306.5" stroke="#222" stroke-width="1"/>
<line x1="1297.8" y1="297.5" x2="1302" y2="297.5" stroke="#222" stroke-width="1"/>
<line x1="1297.8" y1="287.5" x2="1302" y2="287.5" stroke="#222" stroke-width="1"/>
<line x1="1297.8" y1="277.5" x2="1302" y2="277.5" stroke="#222" stroke-width="1"/>
<line x1="1289" y1="268.5" x2="1302" y2="268.5" stroke="#222" stroke-width="1"/>
<text x="1305.6" y="273.1" font-size="10.8" fill="#111" font-family='"Liberation Sans", sans-serif' textLength="38" lengthAdjust="spacingAndGlyphs">1.0250</text>
<line x1="1297.8" y1="258.5" x2="1302" y2="258.5" stroke="#222" stroke-width="1"/>
<line x1="1297.8" y1="248.5" x2="1302" y2="248.5" stroke="#222" stroke-width="1"/>
<line x1="1297.8" y1="238.5" x2="1302" y2="238.5" stroke="#222" stroke-width="1"/>
<line x1="1297.8" y1="229.5" x2="1302" y2="229.5" stroke="#222" stroke-width="1"/>
<line x1="1295.3" y1="219.5" x2="1302" y2="219.5" stroke="#222" stroke-width="1"/>
<line x1="1297.8" y1="209.5" x2="1302" y2="209.5" stroke="#222" stroke-width="1"/>
<line x1="1297.8" y1="199.5" x2="1302" y2="199.5" stroke="#222" stroke-width="1"/>
<line x1="1297.8" y1="190.5" x2="1302" y2="190.5" stroke="#222" stroke-width="1"/>
<line x1="1297.8" y1="180.5" x2="1302" y2="180.5" stroke="#222" stroke-width="1"/>
<line x1="1289" y1="170.5" x2="1302" y2="170.5" stroke="#222" stroke-width="1"/>
<text x="1305.6" y="175.1" font-size="10.8" fill="#111" font-family='"Liberation Sans", sans-serif' textLength="38" lengthAdjust="spacingAndGlyphs">1.0500</text>
<line x1="1297.8" y1="160.5" x2="1302" y2="160.5" stroke="#222" stroke-width="1"/>
<line x1="1297.8" y1="151.5" x2="1302" y2="151.5" stroke="#222" stroke-width="1"/>
<line x1="1297.8" y1="141.5" x2="1302" y2="141.5" stroke="#222" stroke-width="1"/>
<line x1="1297.8" y1="131.5" x2="1302" y2="131.5" stroke="#222" stroke-width="1"/>
<line x1="1295.3" y1="122.5" x2="1302" y2="122.5" stroke="#222" stroke-width="1"/>
<line x1="1297.8" y1="112.5" x2="1302" y2="112.5" stroke="#222" stroke-width="1"/>
<line x1="1297.8" y1="102.5" x2="1302" y2="102.5" stroke="#222" stroke-width="1"/>
<line x1="1297.8" y1="92.5" x2="1302" y2="92.5" stroke="#222" stroke-width="1"/>
<line x1="1297.8" y1="83.5" x2="1302" y2="83.5" stroke="#222" stroke-width="1"/>
<line x1="1289" y1="73.5" x2="1302" y2="73.5" stroke="#222" stroke-width="1"/>
<text x="1305.6" y="78.1" font-size="10.8" fill="#111" font-family='"Liberation Sans", sans-serif' textLength="38" lengthAdjust="spacingAndGlyphs">1.0750</text>
<line x1="1297.8" y1="63.5" x2="1302" y2="63.5" stroke="#222" stroke-width="1"/>
<line x1="1297.8" y1="53.5" x2="1302" y2="53.5" stroke="#222" stroke-width="1"/>
<line x1="1297.8" y1="44.5" x2="1302" y2="44.5" stroke="#222" stroke-width="1"/>
<line x1="1297.8" y1="34.5" x2="1302" y2="34.5" stroke="#222" stroke-width="1"/>
<rect x="1302.5" y="263.6" width="48.5" height="14.6" fill="#3d9df5"/>
<text x="1305" y="274.8" font-size="11" fill="#0a1a40" font-family='"Liberation Sans", sans-serif' textLength="43" lengthAdjust="spacingAndGlyphs">1.02417</text>
<line x1="25.5" y1="566" x2="25.5" y2="581" stroke="#222" stroke-width="1"/>
<text x="0" y="599.3" font-size="10.8" fill="#111" font-family='"Liberation Sans", sans-serif' textLength="65" lengthAdjust="spacingAndGlyphs">09/02/2011</text>
<line x1="103.5" y1="566" x2="103.5" y2="581" stroke="#222" stroke-width="1"/>
<text x="102.5" y="599.3" font-size="10.8" fill="#111" text-anchor="middle" font-family='"Liberation Sans", sans-serif' textLength="31.7" lengthAdjust="spacingAndGlyphs">09/20</text>
<line x1="181.5" y1="566" x2="181.5" y2="581" stroke="#222" stroke-width="1"/>
<text x="180.5" y="599.3" font-size="10.8" fill="#111" text-anchor="middle" font-family='"Liberation Sans", sans-serif' textLength="31.7" lengthAdjust="spacingAndGlyphs">10/03</text>
<line x1="259.5" y1="566" x2="259.5" y2="581" stroke="#222" stroke-width="1"/>
<text x="258.6" y="599.3" font-size="10.8" fill="#111" text-anchor="middle" font-family='"Liberation Sans", sans-serif' textLength="31.7" lengthAdjust="spacingAndGlyphs">10/14</text>
<line x1="337.5" y1="566" x2="337.5" y2="581" stroke="#222" stroke-width="1"/>
<text x="336.7" y="599.3" font-size="10.8" fill="#111" text-anchor="middle" font-family='"Liberation Sans", sans-serif' textLength="31.7" lengthAdjust="spacingAndGlyphs">10/27</text>
<line x1="415.5" y1="566" x2="415.5" y2="581" stroke="#222" stroke-width="1"/>
<text x="414.7" y="599.3" font-size="10.8" fill="#111" text-anchor="middle" font-family='"Liberation Sans", sans-serif' textLength="31.7" lengthAdjust="spacingAndGlyphs">11/09</text>
<line x1="493.5" y1="566" x2="493.5" y2="581" stroke="#222" stroke-width="1"/>
<text x="492.8" y="599.3" font-size="10.8" fill="#111" text-anchor="middle" font-family='"Liberation Sans", sans-serif' textLength="31.7" lengthAdjust="spacingAndGlyphs">11/22</text>
<line x1="571.5" y1="566" x2="571.5" y2="581" stroke="#222" stroke-width="1"/>
<text x="570.9" y="599.3" font-size="10.8" fill="#111" text-anchor="middle" font-family='"Liberation Sans", sans-serif' textLength="31.7" lengthAdjust="spacingAndGlyphs">12/05</text>
<line x1="649.5" y1="566" x2="649.5" y2="581" stroke="#222" stroke-width="1"/>
<text x="649.0" y="599.3" font-size="10.8" fill="#111" text-anchor="middle" font-family='"Liberation Sans", sans-serif' textLength="31.7" lengthAdjust="spacingAndGlyphs">12/16</text>
<line x1="728.5" y1="566" x2="728.5" y2="581" stroke="#222" stroke-width="1"/>
<text x="727.0" y="599.3" font-size="10.8" fill="#111" text-anchor="middle" font-family='"Liberation Sans", sans-serif' textLength="31.7" lengthAdjust="spacingAndGlyphs">12/27</text>
<line x1="806.5" y1="566" x2="806.5" y2="581" stroke="#222" stroke-width="1"/>
<text x="805.1" y="599.3" font-size="10.8" fill="#111" text-anchor="middle" font-family='"Liberation Sans", sans-serif' textLength="65" lengthAdjust="spacingAndGlyphs">01/05/2012</text>
<line x1="884.5" y1="566" x2="884.5" y2="581" stroke="#222" stroke-width="1"/>
<text x="883.2" y="599.3" font-size="10.8" fill="#111" text-anchor="middle" font-family='"Liberation Sans", sans-serif' textLength="31.7" lengthAdjust="spacingAndGlyphs">01/14</text>
<line x1="962.5" y1="566" x2="962.5" y2="581" stroke="#222" stroke-width="1"/>
<text x="961.2" y="599.3" font-size="10.8" fill="#111" text-anchor="middle" font-family='"Liberation Sans", sans-serif' textLength="31.7" lengthAdjust="spacingAndGlyphs">01/23</text>
<line x1="1040.5" y1="566" x2="1040.5" y2="581" stroke="#222" stroke-width="1"/>
<text x="1039.3" y="599.3" font-size="10.8" fill="#111" text-anchor="middle" font-family='"Liberation Sans", sans-serif' textLength="31.7" lengthAdjust="spacingAndGlyphs">02/01</text>
<line x1="1118.5" y1="566" x2="1118.5" y2="581" stroke="#222" stroke-width="1"/>
<text x="1117.4" y="599.3" font-size="10.8" fill="#111" text-anchor="middle" font-family='"Liberation Sans", sans-serif' textLength="31.7" lengthAdjust="spacingAndGlyphs">02/10</text>
<line x1="1196.5" y1="566" x2="1196.5" y2="581" stroke="#222" stroke-width="1"/>
<text x="1195.5" y="599.3" font-size="10.8" fill="#111" text-anchor="middle" font-family='"Liberation Sans", sans-serif' textLength="31.7" lengthAdjust="spacingAndGlyphs">02/19</text>
<line x1="1274.5" y1="566" x2="1274.5" y2="581" stroke="#222" stroke-width="1"/>
<text x="1273.5" y="599.3" font-size="10.8" fill="#111" text-anchor="middle" font-family='"Liberation Sans", sans-serif' textLength="31.7" lengthAdjust="spacingAndGlyphs">02/28</text>
<line x1="5.5" y1="575" x2="5.5" y2="581" stroke="#222" stroke-width="1"/>
<line x1="15.5" y1="578" x2="15.5" y2="581" stroke="#222" stroke-width="1"/>
<line x1="35.5" y1="578" x2="35.5" y2="581" stroke="#222" stroke-width="1"/>
<line x1="44.5" y1="575" x2="44.5" y2="581" stroke="#222" stroke-width="1"/>
<line x1="54.5" y1="578" x2="54.5" y2="581" stroke="#222" stroke-width="1"/>
<line x1="64.5" y1="575" x2="64.5" y2="581" stroke="#222" stroke-width="1"/>
<line x1="74.5" y1="578" x2="74.5" y2="581" stroke="#222" stroke-width="1"/>
<line x1="83.5" y1="575" x2="83.5" y2="581" stroke="#222" stroke-width="1"/>
<line x1="93.5" y1="578" x2="93.5" y2="581" stroke="#222" stroke-width="1"/>
<line x1="113.5" y1="578" x2="113.5" y2="581" stroke="#222" stroke-width="1"/>
<line x1="122.5" y1="575" x2="122.5" y2="581" stroke="#222" stroke-width="1"/>
<line x1="132.5" y1="578" x2="132.5" y2="581" stroke="#222" stroke-width="1"/>
<line x1="142.5" y1="575" x2="142.5" y2="581" stroke="#222" stroke-width="1"/>
<line x1="152.5" y1="578" x2="152.5" y2="581" stroke="#222" stroke-width="1"/>
<line x1="162.5" y1="575" x2="162.5" y2="581" stroke="#222" stroke-width="1"/>
<line x1="171.5" y1="578" x2="171.5" y2="581" stroke="#222" stroke-width="1"/>
<line x1="191.5" y1="578" x2="191.5" y2="581" stroke="#222" stroke-width="1"/>
<line x1="201.5" y1="575" x2="201.5" y2="581" stroke="#222" stroke-width="1"/>
<line x1="210.5" y1="578" x2="210.5" y2="581" stroke="#222" stroke-width="1"/>
<line x1="220.5" y1="575" x2="220.5" y2="581" stroke="#222" stroke-width="1"/>
<line x1="230.5" y1="578" x2="230.5" y2="581" stroke="#222" stroke-width="1"/>
<line x1="240.5" y1="575" x2="240.5" y2="581" stroke="#222" stroke-width="1"/>
<line x1="249.5" y1="578" x2="249.5" y2="581" stroke="#222" stroke-width="1"/>
<line x1="269.5" y1="578" x2="269.5" y2="581" stroke="#222" stroke-width="1"/>
<line x1="279.5" y1="575" x2="279.5" y2="581" stroke="#222" stroke-width="1"/>
<line x1="288.5" y1="578" x2="288.5" y2="581" stroke="#222" stroke-width="1"/>
<line x1="298.5" y1="575" x2="298.5" y2="581" stroke="#222" stroke-width="1"/>
<line x1="308.5" y1="578" x2="308.5" y2="581" stroke="#222" stroke-width="1"/>
<line x1="318.5" y1="575" x2="318.5" y2="581" stroke="#222" stroke-width="1"/>
<line x1="327.5" y1="578" x2="327.5" y2="581" stroke="#222" stroke-width="1"/>
<line x1="347.5" y1="578" x2="347.5" y2="581" stroke="#222" stroke-width="1"/>
<line x1="357.5" y1="575" x2="357.5" y2="581" stroke="#222" stroke-width="1"/>
<line x1="366.5" y1="578" x2="366.5" y2="581" stroke="#222" stroke-width="1"/>
<line x1="376.5" y1="575" x2="376.5" y2="581" stroke="#222" stroke-width="1"/>
<line x1="386.5" y1="578" x2="386.5" y2="581" stroke="#222" stroke-width="1"/>
<line x1="396.5" y1="575" x2="396.5" y2="581" stroke="#222" stroke-width="1"/>
<line x1="405.5" y1="578" x2="405.5" y2="581" stroke="#222" stroke-width="1"/>
<line x1="425.5" y1="578" x2="425.5" y2="581" stroke="#222" stroke-width="1"/>
<line x1="435.5" y1="575" x2="435.5" y2="581" stroke="#222" stroke-width="1"/>
<line x1="445.5" y1="578" x2="445.5" y2="581" stroke="#222" stroke-width="1"/>
<line x1="454.5" y1="575" x2="454.5" y2="581" stroke="#222" stroke-width="1"/>
<line x1="464.5" y1="578" x2="464.5" y2="581" stroke="#222" stroke-width="1"/>
<line x1="474.5" y1="575" x2="474.5" y2="581" stroke="#222" stroke-width="1"/>
<line x1="484.5" y1="578" x2="484.5" y2="581" stroke="#222" stroke-width="1"/>
<line x1="503.5" y1="578" x2="503.5" y2="581" stroke="#222" stroke-width="1"/>
<line x1="513.5" y1="575" x2="513.5" y2="581" stroke="#222" stroke-width="1"/>
<line x1="523.5" y1="578" x2="523.5" y2="581" stroke="#222" stroke-width="1"/>
<line x1="532.5" y1="575" x2="532.5" y2="581" stroke="#222" stroke-width="1"/>
<line x1="542.5" y1="578" x2="542.5" y2="581" stroke="#222" stroke-width="1"/>
<line x1="552.5" y1="575" x2="552.5" y2="581" stroke="#222" stroke-width="1"/>
<line x1="562.5" y1="578" x2="562.5" y2="581" stroke="#222" stroke-width="1"/>
<line x1="581.5" y1="578" x2="581.5" y2="581" stroke="#222" stroke-width="1"/>
<line x1="591.5" y1="575" x2="591.5" y2="581" stroke="#222" stroke-width="1"/>
<line x1="601.5" y1="578" x2="601.5" y2="581" stroke="#222" stroke-width="1"/>
<line x1="610.5" y1="575" x2="610.5" y2="581" stroke="#222" stroke-width="1"/>
<line x1="620.5" y1="578" x2="620.5" y2="581" stroke="#222" stroke-width="1"/>
<line x1="630.5" y1="575" x2="630.5" y2="581" stroke="#222" stroke-width="1"/>
<line x1="640.5" y1="578" x2="640.5" y2="581" stroke="#222" stroke-width="1"/>
<line x1="659.5" y1="578" x2="659.5" y2="581" stroke="#222" stroke-width="1"/>
<line x1="669.5" y1="575" x2="669.5" y2="581" stroke="#222" stroke-width="1"/>
<line x1="679.5" y1="578" x2="679.5" y2="581" stroke="#222" stroke-width="1"/>
<line x1="688.5" y1="575" x2="688.5" y2="581" stroke="#222" stroke-width="1"/>
<line x1="698.5" y1="578" x2="698.5" y2="581" stroke="#222" stroke-width="1"/>
<line x1="708.5" y1="575" x2="708.5" y2="581" stroke="#222" stroke-width="1"/>
<line x1="718.5" y1="578" x2="718.5" y2="581" stroke="#222" stroke-width="1"/>
<line x1="737.5" y1="578" x2="737.5" y2="581" stroke="#222" stroke-width="1"/>
<line x1="747.5" y1="575" x2="747.5" y2="581" stroke="#222" stroke-width="1"/>
<line x1="757.5" y1="578" x2="757.5" y2="581" stroke="#222" stroke-width="1"/>
<line x1="767.5" y1="575" x2="767.5" y2="581" stroke="#222" stroke-width="1"/>
<line x1="776.5" y1="578" x2="776.5" y2="581" stroke="#222" stroke-width="1"/>
<line x1="786.5" y1="575" x2="786.5" y2="581" stroke="#222" stroke-width="1"/>
<line x1="796.5" y1="578" x2="796.5" y2="581" stroke="#222" stroke-width="1"/>
<line x1="815.5" y1="578" x2="815.5" y2="581" stroke="#222" stroke-width="1"/>
<line x1="825.5" y1="575" x2="825.5" y2="581" stroke="#222" stroke-width="1"/>
<line x1="835.5" y1="578" x2="835.5" y2="581" stroke="#222" stroke-width="1"/>
<line x1="845.5" y1="575" x2="845.5" y2="581" stroke="#222" stroke-width="1"/>
<line x1="854.5" y1="578" x2="854.5" y2="581" stroke="#222" stroke-width="1"/>
<line x1="864.5" y1="575" x2="864.5" y2="581" stroke="#222" stroke-width="1"/>
<line x1="874.5" y1="578" x2="874.5" y2="581" stroke="#222" stroke-width="1"/>
<line x1="893.5" y1="578" x2="893.5" y2="581" stroke="#222" stroke-width="1"/>
<line x1="903.5" y1="575" x2="903.5" y2="581" stroke="#222" stroke-width="1"/>
<line x1="913.5" y1="578" x2="913.5" y2="581" stroke="#222" stroke-width="1"/>
<line x1="923.5" y1="575" x2="923.5" y2="581" stroke="#222" stroke-width="1"/>
<line x1="932.5" y1="578" x2="932.5" y2="581" stroke="#222" stroke-width="1"/>
<line x1="942.5" y1="575" x2="942.5" y2="581" stroke="#222" stroke-width="1"/>
<line x1="952.5" y1="578" x2="952.5" y2="581" stroke="#222" stroke-width="1"/>
<line x1="971.5" y1="578" x2="971.5" y2="581" stroke="#222" stroke-width="1"/>
<line x1="981.5" y1="575" x2="981.5" y2="581" stroke="#222" stroke-width="1"/>
<line x1="991.5" y1="578" x2="991.5" y2="581" stroke="#222" stroke-width="1"/>
<line x1="1001.5" y1="575" x2="1001.5" y2="581" stroke="#222" stroke-width="1"/>
<line x1="1011.5" y1="578" x2="1011.5" y2="581" stroke="#222" stroke-width="1"/>
<line x1="1020.5" y1="575" x2="1020.5" y2="581" stroke="#222" stroke-width="1"/>
<line x1="1030.5" y1="578" x2="1030.5" y2="581" stroke="#222" stroke-width="1"/>
<line x1="1050.5" y1="578" x2="1050.5" y2="581" stroke="#222" stroke-width="1"/>
<line x1="1059.5" y1="575" x2="1059.5" y2="581" stroke="#222" stroke-width="1"/>
<line x1="1069.5" y1="578" x2="1069.5" y2="581" stroke="#222" stroke-width="1"/>
<line x1="1079.5" y1="575" x2="1079.5" y2="581" stroke="#222" stroke-width="1"/>
<line x1="1089.5" y1="578" x2="1089.5" y2="581" stroke="#222" stroke-width="1"/>
<line x1="1098.5" y1="575" x2="1098.5" y2="581" stroke="#222" stroke-width="1"/>
<line x1="1108.5" y1="578" x2="1108.5" y2="581" stroke="#222" stroke-width="1"/>
<line x1="1128.5" y1="578" x2="1128.5" y2="581" stroke="#222" stroke-width="1"/>
<line x1="1137.5" y1="575" x2="1137.5" y2="581" stroke="#222" stroke-width="1"/>
<line x1="1147.5" y1="578" x2="1147.5" y2="581" stroke="#222" stroke-width="1"/>
<line x1="1157.5" y1="575" x2="1157.5" y2="581" stroke="#222" stroke-width="1"/>
<line x1="1167.5" y1="578" x2="1167.5" y2="581" stroke="#222" stroke-width="1"/>
<line x1="1176.5" y1="575" x2="1176.5" y2="581" stroke="#222" stroke-width="1"/>
<line x1="1186.5" y1="578" x2="1186.5" y2="581" stroke="#222" stroke-width="1"/>
<line x1="1206.5" y1="578" x2="1206.5" y2="581" stroke="#222" stroke-width="1"/>
<line x1="1215.5" y1="575" x2="1215.5" y2="581" stroke="#222" stroke-width="1"/>
<line x1="1225.5" y1="578" x2="1225.5" y2="581" stroke="#222" stroke-width="1"/>
<line x1="1235.5" y1="575" x2="1235.5" y2="581" stroke="#222" stroke-width="1"/>
<line x1="1245.5" y1="578" x2="1245.5" y2="581" stroke="#222" stroke-width="1"/>
<line x1="1255.5" y1="575" x2="1255.5" y2="581" stroke="#222" stroke-width="1"/>
<line x1="1264.5" y1="578" x2="1264.5" y2="581" stroke="#222" stroke-width="1"/>
<line x1="1284.5" y1="578" x2="1284.5" y2="581" stroke="#222" stroke-width="1"/>
<line x1="1294.5" y1="575" x2="1294.5" y2="581" stroke="#222" stroke-width="1"/>
<text y="43" font-size="11" font-family='"Liberation Sans", sans-serif'>
<tspan x="8.2" fill="#2a2a78" textLength="155.6" lengthAdjust="spacingAndGlyphs">ICH(USD/CAD, 9, 26, 52) -</tspan>
</text>
<text x="172" y="43" font-size="11" fill="#2a2a78" font-family='"Liberation Sans", sans-serif' textLength="61.8" lengthAdjust="spacingAndGlyphs">SL: 1.0292</text>
<text x="242.1" y="43" font-size="11" fill="#a83838" font-family='"Liberation Sans", sans-serif' textLength="59.6" lengthAdjust="spacingAndGlyphs">TL: 1.0287</text>
<text x="311.7" y="43" font-size="11" fill="#1a1a1a" font-family='"Liberation Sans", sans-serif' textLength="64" lengthAdjust="spacingAndGlyphs">CS: 1.0242</text>
<text x="384.5" y="43" font-size="11" fill="#3a8a3a" font-family='"Liberation Sans", sans-serif' textLength="62.9" lengthAdjust="spacingAndGlyphs">SA: 1.0289</text>
<text x="456.3" y="43" font-size="11" fill="#d4a868" font-family='"Liberation Sans", sans-serif' textLength="62.9" lengthAdjust="spacingAndGlyphs">SB: 1.0207</text>
</svg>
</body></html>
